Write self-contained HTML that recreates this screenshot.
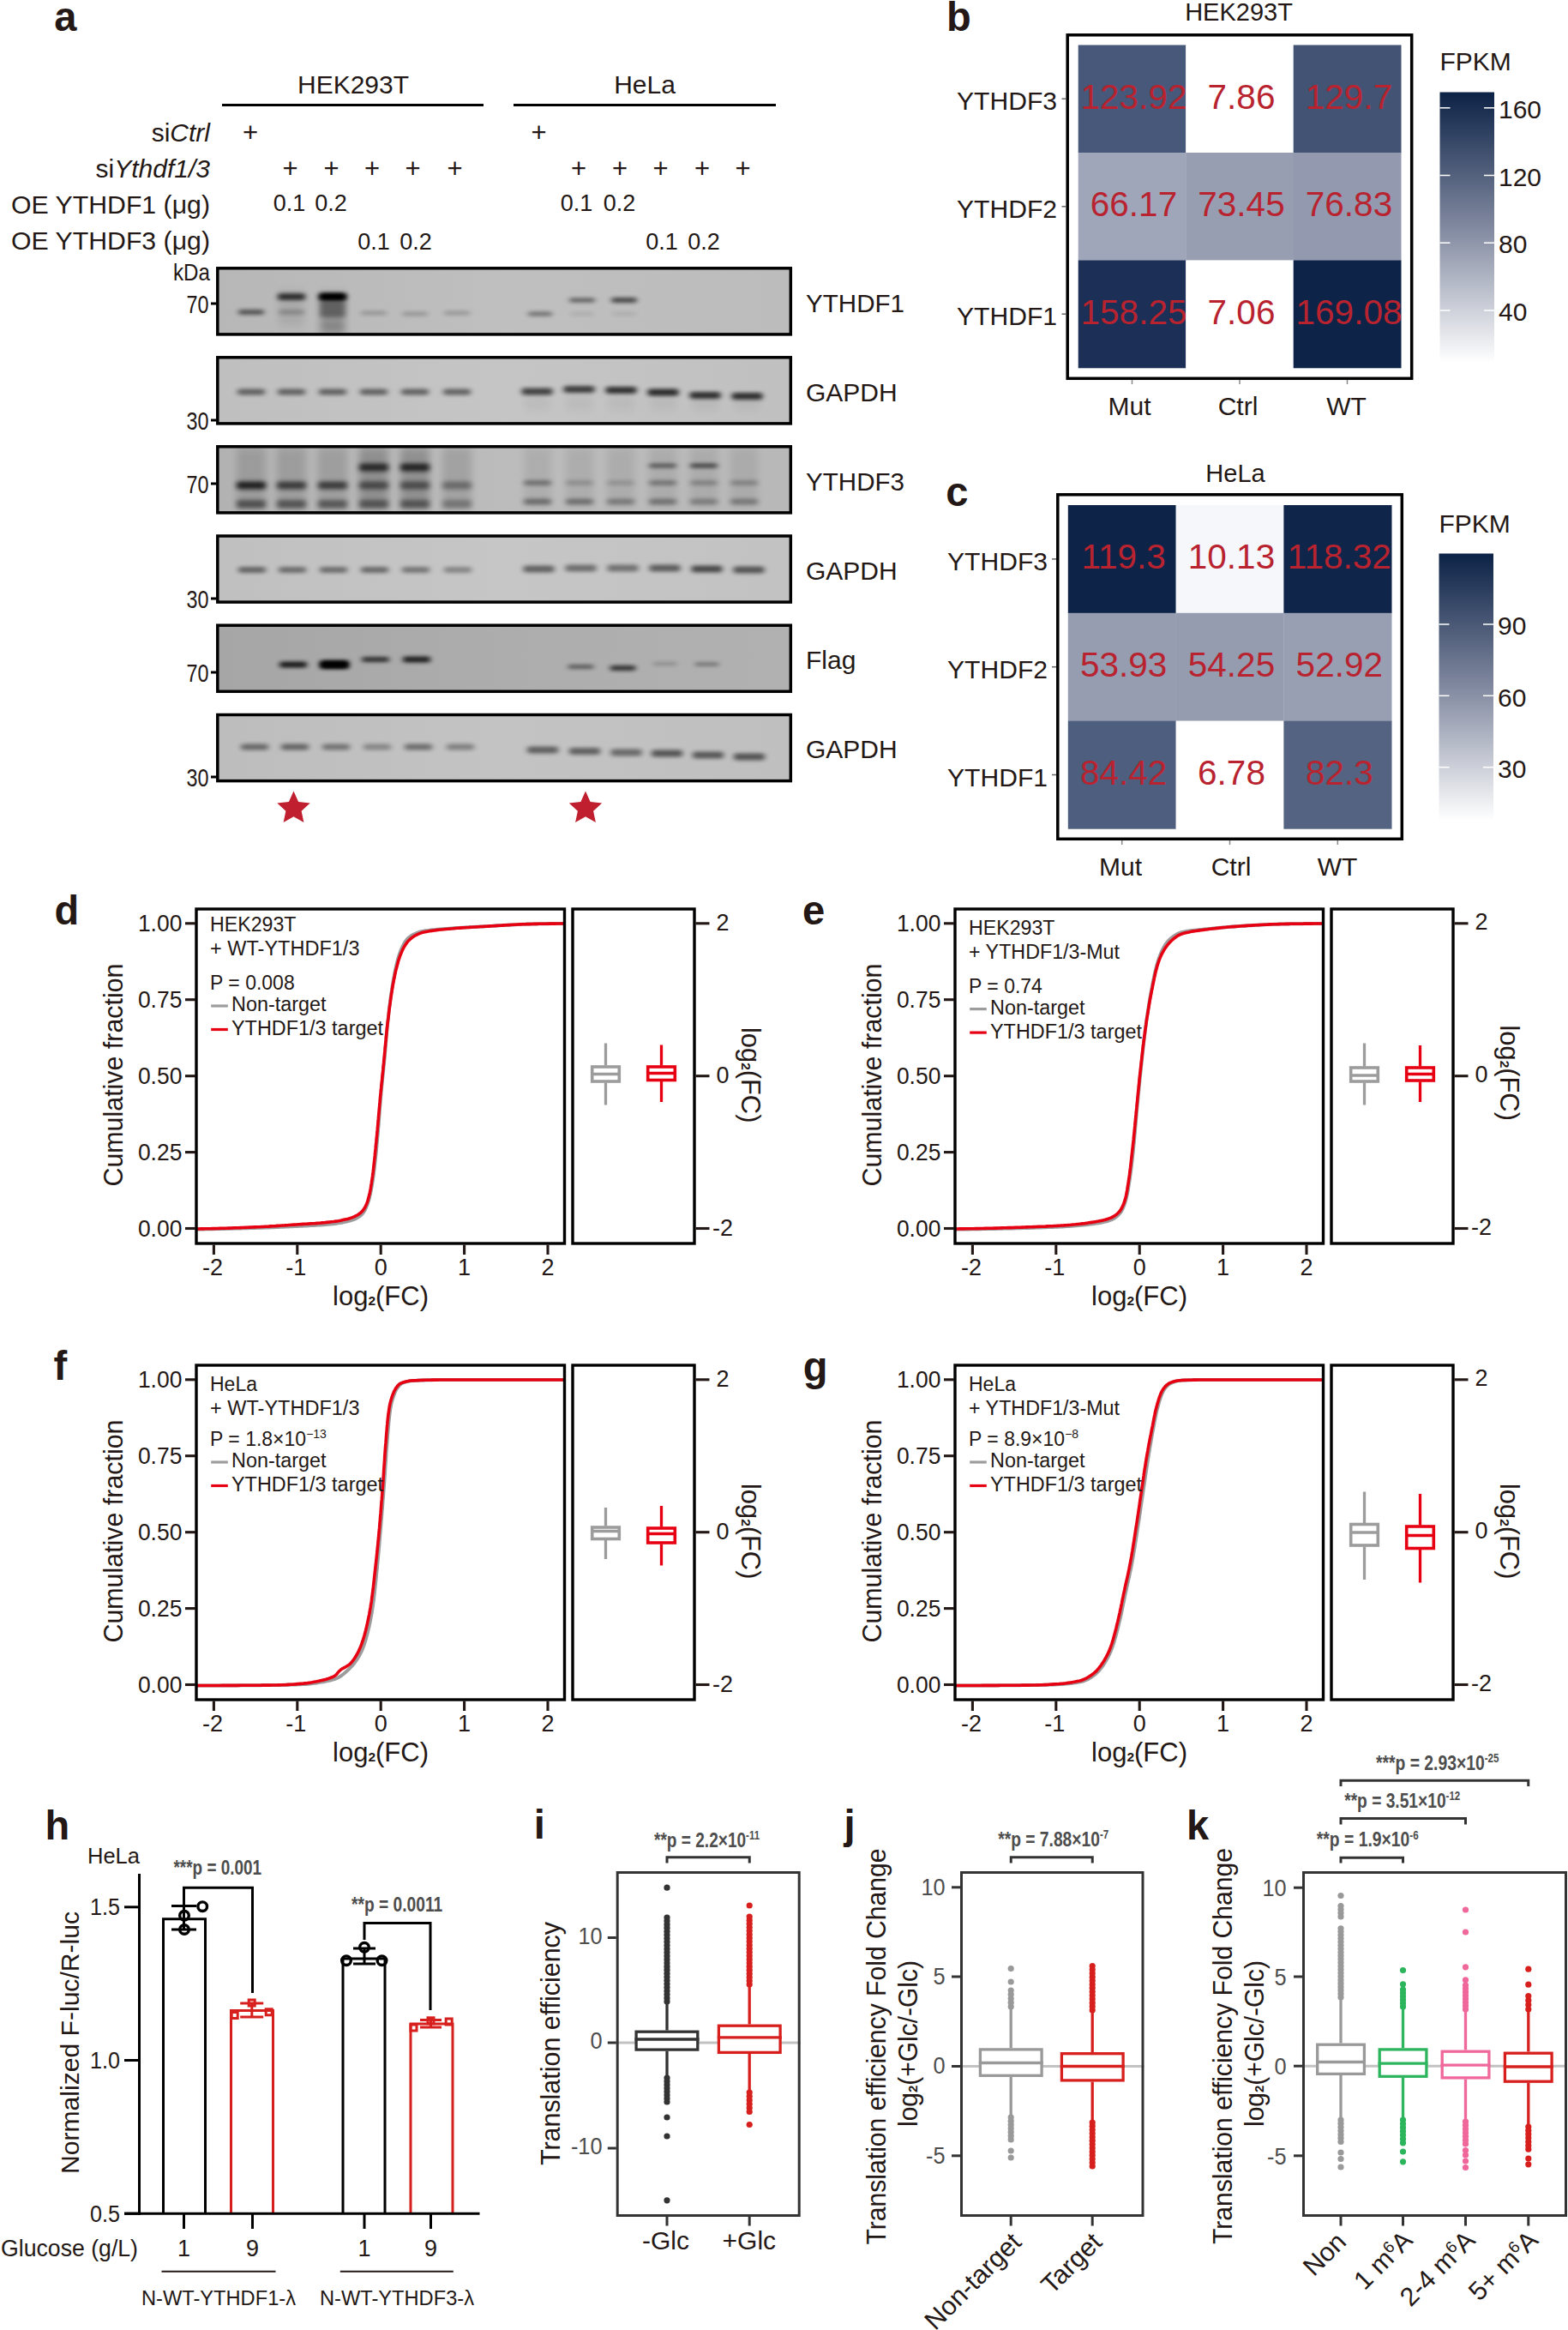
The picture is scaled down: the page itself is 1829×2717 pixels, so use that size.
<!DOCTYPE html>
<html lang="en"><head><meta charset="utf-8"><title>Figure</title>
<style>html,body{margin:0;padding:0;background:#fff}svg{display:block}text{font-family:"Liberation Sans", sans-serif}</style></head>
<body>
<svg width="1829" height="2717" viewBox="0 0 1829 2717" role="img" aria-label="Figure panels a to k">
<rect width="1829" height="2717" fill="#fff"/>
<g id="panel-a">
<text x="63.3" y="36.2" font-size="48" font-weight="bold" fill="#231815" textLength="26.2" lengthAdjust="spacingAndGlyphs">a</text>
<text x="412.0" y="109.0" font-size="30" text-anchor="middle" fill="#231815" textLength="130.0" lengthAdjust="spacingAndGlyphs">HEK293T</text>
<text x="752.0" y="109.0" font-size="30" text-anchor="middle" fill="#231815">HeLa</text>
<line x1="259.0" y1="122.5" x2="564.0" y2="122.5" stroke="#000" stroke-width="3" />
<line x1="599.0" y1="122.5" x2="905.0" y2="122.5" stroke="#000" stroke-width="3" />
<text x="245.0" y="165.0" font-size="30" text-anchor="end" fill="#231815">si<tspan font-style="italic">Ctrl</tspan></text>
<text x="245.0" y="207.0" font-size="30" text-anchor="end" fill="#231815">si<tspan font-style="italic">Ythdf1/3</tspan></text>
<text x="245.0" y="249.0" font-size="30" text-anchor="end" fill="#231815" textLength="232.0" lengthAdjust="spacingAndGlyphs">OE YTHDF1 (μg)</text>
<text x="245.0" y="291.0" font-size="30" text-anchor="end" fill="#231815" textLength="232.0" lengthAdjust="spacingAndGlyphs">OE YTHDF3 (μg)</text>
<text x="292.0" y="165.0" font-size="31" text-anchor="middle" fill="#231815">+</text>
<text x="338.5" y="207.0" font-size="31" text-anchor="middle" fill="#231815">+</text>
<text x="386.5" y="207.0" font-size="31" text-anchor="middle" fill="#231815">+</text>
<text x="434.0" y="207.0" font-size="31" text-anchor="middle" fill="#231815">+</text>
<text x="481.5" y="207.0" font-size="31" text-anchor="middle" fill="#231815">+</text>
<text x="530.5" y="207.0" font-size="31" text-anchor="middle" fill="#231815">+</text>
<text x="628.5" y="165.0" font-size="31" text-anchor="middle" fill="#231815">+</text>
<text x="675.0" y="207.0" font-size="31" text-anchor="middle" fill="#231815">+</text>
<text x="723.0" y="207.0" font-size="31" text-anchor="middle" fill="#231815">+</text>
<text x="770.5" y="207.0" font-size="31" text-anchor="middle" fill="#231815">+</text>
<text x="819.0" y="207.0" font-size="31" text-anchor="middle" fill="#231815">+</text>
<text x="866.5" y="207.0" font-size="31" text-anchor="middle" fill="#231815">+</text>
<text x="337.5" y="245.5" font-size="27" text-anchor="middle" fill="#231815">0.1</text>
<text x="386.0" y="245.5" font-size="27" text-anchor="middle" fill="#231815">0.2</text>
<text x="436.0" y="291.0" font-size="27" text-anchor="middle" fill="#231815">0.1</text>
<text x="485.0" y="291.0" font-size="27" text-anchor="middle" fill="#231815">0.2</text>
<text x="672.5" y="245.5" font-size="27" text-anchor="middle" fill="#231815">0.1</text>
<text x="722.5" y="245.5" font-size="27" text-anchor="middle" fill="#231815">0.2</text>
<text x="772.0" y="291.0" font-size="27" text-anchor="middle" fill="#231815">0.1</text>
<text x="821.0" y="291.0" font-size="27" text-anchor="middle" fill="#231815">0.2</text>
<text x="245.0" y="327.0" font-size="28" text-anchor="end" fill="#231815" textLength="43.0" lengthAdjust="spacingAndGlyphs">kDa</text>
<defs><filter id="b1" x="-30%" y="-200%" width="160%" height="500%"><feGaussianBlur stdDeviation="3 2.3"/></filter><filter id="b2" x="-30%" y="-200%" width="160%" height="500%"><feGaussianBlur stdDeviation="3.4 2.8"/></filter><filter id="b3" x="-30%" y="-100%" width="160%" height="300%"><feGaussianBlur stdDeviation="4 6"/></filter></defs>
<defs><linearGradient id="bg0" x1="0" y1="0" x2="1" y2="0"><stop offset="0" stop-color="#b7b7b7"/><stop offset="0.5" stop-color="#bfbfbf"/><stop offset="1" stop-color="#bcbcbc"/></linearGradient><linearGradient id="bg1" x1="0" y1="0" x2="1" y2="0"><stop offset="0" stop-color="#bfbfbf"/><stop offset="0.5" stop-color="#c5c5c5"/><stop offset="1" stop-color="#c0c0c0"/></linearGradient><linearGradient id="bg2" x1="0" y1="0" x2="1" y2="0"><stop offset="0" stop-color="#b2b2b2"/><stop offset="0.5" stop-color="#bcbcbc"/><stop offset="1" stop-color="#b8b8b8"/></linearGradient><linearGradient id="bg3" x1="0" y1="0" x2="1" y2="0"><stop offset="0" stop-color="#c0c0c0"/><stop offset="0.5" stop-color="#c6c6c6"/><stop offset="1" stop-color="#c2c2c2"/></linearGradient><linearGradient id="bg4" x1="0" y1="0" x2="1" y2="0"><stop offset="0" stop-color="#a6a6a6"/><stop offset="0.5" stop-color="#adadad"/><stop offset="1" stop-color="#b1b1b1"/></linearGradient><linearGradient id="bg5" x1="0" y1="0" x2="1" y2="0"><stop offset="0" stop-color="#bdbdbd"/><stop offset="0.5" stop-color="#c3c3c3"/><stop offset="1" stop-color="#bfbfbf"/></linearGradient></defs>
<clipPath id="cp0"><rect x="253.5" y="312.5" width="669" height="77.6"/></clipPath>
<rect x="253.8" y="312.8" width="668.5" height="77.1" fill="url(#bg0)" />
<g clip-path="url(#cp0)">
<rect x="278.0" y="361.0" width="30" height="6" rx="3.0" fill="#000" opacity="0.55" filter="url(#b1)"/>
<rect x="324.0" y="342.0" width="32" height="8" rx="3.0" fill="#000" opacity="0.72" filter="url(#b1)"/>
<rect x="325.0" y="361.0" width="30" height="6" rx="3.0" fill="#000" opacity="0.2" filter="url(#b1)"/>
<rect x="325.0" y="340.0" width="30" height="40" rx="3.0" fill="#000" opacity="0.08" filter="url(#b3)"/>
<rect x="372.0" y="341.5" width="32" height="9" rx="3.0" fill="#000" opacity="1.0" filter="url(#b1)"/>
<rect x="374.0" y="343.5" width="28" height="5" rx="2.5" fill="#000" opacity="0.8" filter="url(#b1)"/>
<rect x="373.0" y="350.0" width="30" height="20" rx="3.0" fill="#000" opacity="0.4" filter="url(#b2)"/>
<rect x="374.0" y="374.0" width="28" height="14" rx="3.0" fill="#000" opacity="0.22" filter="url(#b3)"/>
<rect x="373.0" y="342.0" width="30" height="46" rx="3.0" fill="#000" opacity="0.12" filter="url(#b3)"/>
<rect x="421.0" y="362.5" width="30" height="5" rx="2.5" fill="#000" opacity="0.2" filter="url(#b1)"/>
<rect x="469.0" y="363.5" width="30" height="5" rx="2.5" fill="#000" opacity="0.2" filter="url(#b1)"/>
<rect x="518.0" y="362.5" width="30" height="5" rx="2.5" fill="#000" opacity="0.2" filter="url(#b1)"/>
<rect x="616.0" y="363.5" width="28" height="5" rx="2.5" fill="#000" opacity="0.42" filter="url(#b1)"/>
<rect x="664.0" y="347.5" width="30" height="5" rx="2.5" fill="#000" opacity="0.5" filter="url(#b1)"/>
<rect x="665.0" y="363.5" width="28" height="5" rx="2.5" fill="#000" opacity="0.08" filter="url(#b1)"/>
<rect x="713.0" y="347.0" width="30" height="6" rx="3.0" fill="#000" opacity="0.62" filter="url(#b1)"/>
<rect x="714.0" y="363.5" width="28" height="5" rx="2.5" fill="#000" opacity="0.08" filter="url(#b1)"/>
</g>
<rect x="253.8" y="312.8" width="668.5" height="77.1" fill="none" stroke="#000" stroke-width="3.5" />
<text x="940.0" y="363.5" font-size="30" fill="#231815" textLength="115.0" lengthAdjust="spacingAndGlyphs">YTHDF1</text>
<text x="243.5" y="364.5" font-size="30" text-anchor="end" fill="#231815" textLength="26.0" lengthAdjust="spacingAndGlyphs">70</text>
<line x1="246.0" y1="354.0" x2="252.5" y2="354.0" stroke="#000" stroke-width="3" />
<clipPath id="cp1"><rect x="253.5" y="416.5" width="669" height="77.6"/></clipPath>
<rect x="253.8" y="416.8" width="668.5" height="77.1" fill="url(#bg1)" />
<g clip-path="url(#cp1)">
<rect x="277.0" y="453.5" width="32" height="7" rx="3.0" fill="#000" opacity="0.5" filter="url(#b1)"/>
<rect x="324.0" y="453.5" width="32" height="7" rx="3.0" fill="#000" opacity="0.5" filter="url(#b1)"/>
<rect x="372.0" y="453.5" width="32" height="7" rx="3.0" fill="#000" opacity="0.5" filter="url(#b1)"/>
<rect x="420.0" y="453.5" width="32" height="7" rx="3.0" fill="#000" opacity="0.5" filter="url(#b1)"/>
<rect x="468.0" y="453.5" width="32" height="7" rx="3.0" fill="#000" opacity="0.5" filter="url(#b1)"/>
<rect x="517.0" y="453.5" width="32" height="7" rx="3.0" fill="#000" opacity="0.5" filter="url(#b1)"/>
<rect x="608.5" y="452.5" width="36" height="8" rx="3.0" fill="#000" opacity="0.66" filter="url(#b1)"/>
<rect x="611.5" y="463.0" width="30" height="14" rx="3.0" fill="#000" opacity="0.05" filter="url(#b3)"/>
<rect x="657.5" y="450.0" width="36" height="8" rx="3.0" fill="#000" opacity="0.68" filter="url(#b1)"/>
<rect x="660.5" y="463.0" width="30" height="14" rx="3.0" fill="#000" opacity="0.05" filter="url(#b3)"/>
<rect x="706.5" y="451.0" width="36" height="8" rx="3.0" fill="#000" opacity="0.74" filter="url(#b1)"/>
<rect x="709.5" y="463.0" width="30" height="14" rx="3.0" fill="#000" opacity="0.05" filter="url(#b3)"/>
<rect x="755.5" y="453.5" width="36" height="8" rx="3.0" fill="#000" opacity="0.78" filter="url(#b1)"/>
<rect x="758.5" y="463.0" width="30" height="14" rx="3.0" fill="#000" opacity="0.05" filter="url(#b3)"/>
<rect x="804.5" y="457.0" width="36" height="8" rx="3.0" fill="#000" opacity="0.74" filter="url(#b1)"/>
<rect x="807.5" y="463.0" width="30" height="14" rx="3.0" fill="#000" opacity="0.05" filter="url(#b3)"/>
<rect x="853.5" y="458.0" width="36" height="8" rx="3.0" fill="#000" opacity="0.74" filter="url(#b1)"/>
<rect x="856.5" y="463.0" width="30" height="14" rx="3.0" fill="#000" opacity="0.05" filter="url(#b3)"/>
</g>
<rect x="253.8" y="416.8" width="668.5" height="77.1" fill="none" stroke="#000" stroke-width="3.5" />
<text x="940.0" y="467.5" font-size="30" fill="#231815">GAPDH</text>
<text x="243.5" y="500.5" font-size="30" text-anchor="end" fill="#231815" textLength="26.0" lengthAdjust="spacingAndGlyphs">30</text>
<line x1="246.0" y1="490.0" x2="252.5" y2="490.0" stroke="#000" stroke-width="3" />
<clipPath id="cp2"><rect x="253.5" y="520.5" width="669" height="77.6"/></clipPath>
<rect x="253.8" y="520.8" width="668.5" height="77.1" fill="url(#bg2)" />
<g clip-path="url(#cp2)">
<rect x="276.0" y="521.0" width="34" height="70" rx="3.0" fill="#000" opacity="0.13" filter="url(#b3)"/>
<rect x="276.0" y="561.5" width="34" height="9" rx="3.0" fill="#000" opacity="0.8" filter="url(#b2)"/>
<rect x="276.0" y="583.0" width="34" height="10" rx="3.0" fill="#000" opacity="0.5" filter="url(#b2)"/>
<rect x="323.0" y="521.0" width="34" height="70" rx="3.0" fill="#000" opacity="0.13" filter="url(#b3)"/>
<rect x="323.0" y="561.5" width="34" height="9" rx="3.0" fill="#000" opacity="0.62" filter="url(#b2)"/>
<rect x="323.0" y="583.0" width="34" height="10" rx="3.0" fill="#000" opacity="0.48" filter="url(#b2)"/>
<rect x="371.0" y="521.0" width="34" height="70" rx="3.0" fill="#000" opacity="0.13" filter="url(#b3)"/>
<rect x="371.0" y="561.5" width="34" height="9" rx="3.0" fill="#000" opacity="0.62" filter="url(#b2)"/>
<rect x="371.0" y="583.0" width="34" height="10" rx="3.0" fill="#000" opacity="0.46" filter="url(#b2)"/>
<rect x="419.0" y="521.0" width="34" height="70" rx="3.0" fill="#000" opacity="0.22" filter="url(#b3)"/>
<rect x="419.0" y="540.5" width="34" height="9" rx="3.0" fill="#000" opacity="0.72" filter="url(#b2)"/>
<rect x="419.0" y="561.5" width="34" height="9" rx="3.0" fill="#000" opacity="0.5" filter="url(#b2)"/>
<rect x="419.0" y="583.0" width="34" height="10" rx="3.0" fill="#000" opacity="0.46" filter="url(#b2)"/>
<rect x="467.0" y="521.0" width="34" height="70" rx="3.0" fill="#000" opacity="0.22" filter="url(#b3)"/>
<rect x="467.0" y="540.5" width="34" height="9" rx="3.0" fill="#000" opacity="0.76" filter="url(#b2)"/>
<rect x="467.0" y="561.5" width="34" height="9" rx="3.0" fill="#000" opacity="0.48" filter="url(#b2)"/>
<rect x="467.0" y="583.0" width="34" height="10" rx="3.0" fill="#000" opacity="0.46" filter="url(#b2)"/>
<rect x="516.0" y="521.0" width="34" height="70" rx="3.0" fill="#000" opacity="0.13" filter="url(#b3)"/>
<rect x="516.0" y="561.5" width="34" height="9" rx="3.0" fill="#000" opacity="0.34" filter="url(#b2)"/>
<rect x="516.0" y="583.0" width="34" height="10" rx="3.0" fill="#000" opacity="0.3" filter="url(#b2)"/>
<rect x="611.0" y="521.0" width="32" height="70" rx="3.0" fill="#000" opacity="0.07" filter="url(#b3)"/>
<rect x="611.0" y="560.0" width="32" height="6" rx="3.0" fill="#000" opacity="0.36" filter="url(#b1)"/>
<rect x="611.0" y="581.5" width="32" height="7" rx="3.0" fill="#000" opacity="0.38" filter="url(#b1)"/>
<rect x="660.0" y="521.0" width="32" height="70" rx="3.0" fill="#000" opacity="0.07" filter="url(#b3)"/>
<rect x="660.0" y="560.0" width="32" height="6" rx="3.0" fill="#000" opacity="0.18" filter="url(#b1)"/>
<rect x="660.0" y="581.5" width="32" height="7" rx="3.0" fill="#000" opacity="0.36" filter="url(#b1)"/>
<rect x="708.0" y="521.0" width="32" height="70" rx="3.0" fill="#000" opacity="0.07" filter="url(#b3)"/>
<rect x="708.0" y="560.0" width="32" height="6" rx="3.0" fill="#000" opacity="0.15" filter="url(#b1)"/>
<rect x="708.0" y="581.5" width="32" height="7" rx="3.0" fill="#000" opacity="0.3" filter="url(#b1)"/>
<rect x="757.0" y="521.0" width="32" height="70" rx="3.0" fill="#000" opacity="0.07" filter="url(#b3)"/>
<rect x="757.0" y="540.5" width="32" height="5" rx="2.5" fill="#000" opacity="0.5" filter="url(#b1)"/>
<rect x="757.0" y="560.0" width="32" height="6" rx="3.0" fill="#000" opacity="0.32" filter="url(#b1)"/>
<rect x="757.0" y="581.5" width="32" height="7" rx="3.0" fill="#000" opacity="0.34" filter="url(#b1)"/>
<rect x="805.0" y="521.0" width="32" height="70" rx="3.0" fill="#000" opacity="0.07" filter="url(#b3)"/>
<rect x="805.0" y="540.5" width="32" height="5" rx="2.5" fill="#000" opacity="0.62" filter="url(#b1)"/>
<rect x="805.0" y="560.0" width="32" height="6" rx="3.0" fill="#000" opacity="0.24" filter="url(#b1)"/>
<rect x="805.0" y="581.5" width="32" height="7" rx="3.0" fill="#000" opacity="0.28" filter="url(#b1)"/>
<rect x="852.0" y="521.0" width="32" height="70" rx="3.0" fill="#000" opacity="0.07" filter="url(#b3)"/>
<rect x="852.0" y="560.0" width="32" height="6" rx="3.0" fill="#000" opacity="0.24" filter="url(#b1)"/>
<rect x="852.0" y="581.5" width="32" height="7" rx="3.0" fill="#000" opacity="0.3" filter="url(#b1)"/>
</g>
<rect x="253.8" y="520.8" width="668.5" height="77.1" fill="none" stroke="#000" stroke-width="3.5" />
<text x="940.0" y="571.5" font-size="30" fill="#231815" textLength="115.0" lengthAdjust="spacingAndGlyphs">YTHDF3</text>
<text x="243.5" y="574.5" font-size="30" text-anchor="end" fill="#231815" textLength="26.0" lengthAdjust="spacingAndGlyphs">70</text>
<line x1="246.0" y1="564.0" x2="252.5" y2="564.0" stroke="#000" stroke-width="3" />
<clipPath id="cp3"><rect x="253.5" y="624.8" width="669" height="77.6"/></clipPath>
<rect x="253.8" y="625.0" width="668.5" height="77.1" fill="url(#bg3)" />
<g clip-path="url(#cp3)">
<rect x="278.0" y="661.0" width="32" height="7" rx="3.0" fill="#000" opacity="0.48" filter="url(#b1)"/>
<rect x="325.0" y="661.0" width="32" height="7" rx="3.0" fill="#000" opacity="0.44" filter="url(#b1)"/>
<rect x="373.0" y="661.0" width="32" height="7" rx="3.0" fill="#000" opacity="0.44" filter="url(#b1)"/>
<rect x="421.0" y="661.0" width="32" height="7" rx="3.0" fill="#000" opacity="0.46" filter="url(#b1)"/>
<rect x="469.0" y="661.0" width="32" height="7" rx="3.0" fill="#000" opacity="0.4" filter="url(#b1)"/>
<rect x="518.0" y="661.0" width="32" height="7" rx="3.0" fill="#000" opacity="0.32" filter="url(#b1)"/>
<rect x="610.5" y="659.5" width="36" height="8" rx="3.0" fill="#000" opacity="0.5" filter="url(#b1)"/>
<rect x="659.5" y="658.5" width="36" height="8" rx="3.0" fill="#000" opacity="0.44" filter="url(#b1)"/>
<rect x="708.5" y="658.5" width="36" height="8" rx="3.0" fill="#000" opacity="0.42" filter="url(#b1)"/>
<rect x="757.5" y="658.5" width="36" height="8" rx="3.0" fill="#000" opacity="0.52" filter="url(#b1)"/>
<rect x="806.5" y="659.5" width="36" height="8" rx="3.0" fill="#000" opacity="0.62" filter="url(#b1)"/>
<rect x="855.5" y="660.5" width="36" height="8" rx="3.0" fill="#000" opacity="0.56" filter="url(#b1)"/>
</g>
<rect x="253.8" y="625.0" width="668.5" height="77.1" fill="none" stroke="#000" stroke-width="3.5" />
<text x="940.0" y="675.8" font-size="30" fill="#231815">GAPDH</text>
<text x="243.5" y="708.5" font-size="30" text-anchor="end" fill="#231815" textLength="26.0" lengthAdjust="spacingAndGlyphs">30</text>
<line x1="246.0" y1="698.0" x2="252.5" y2="698.0" stroke="#000" stroke-width="3" />
<clipPath id="cp4"><rect x="253.5" y="729.0" width="669" height="77.6"/></clipPath>
<rect x="253.8" y="729.2" width="668.5" height="77.1" fill="url(#bg4)" />
<g clip-path="url(#cp4)">
<rect x="326.0" y="771.5" width="32" height="7" rx="3.0" fill="#000" opacity="0.85" filter="url(#b1)"/>
<rect x="373.0" y="770.0" width="34" height="10" rx="3.0" fill="#000" opacity="1.0" filter="url(#b1)"/>
<rect x="375.0" y="772.0" width="30" height="6" rx="3.0" fill="#000" opacity="0.9" filter="url(#b1)"/>
<rect x="422.0" y="766.0" width="32" height="6" rx="3.0" fill="#000" opacity="0.72" filter="url(#b1)"/>
<rect x="470.0" y="765.5" width="32" height="7" rx="3.0" fill="#000" opacity="0.82" filter="url(#b1)"/>
<rect x="662.5" y="775.0" width="30" height="5" rx="2.5" fill="#000" opacity="0.48" filter="url(#b1)"/>
<rect x="711.5" y="776.0" width="30" height="6" rx="3.0" fill="#000" opacity="0.72" filter="url(#b1)"/>
<rect x="761.5" y="772.0" width="28" height="4" rx="2.0" fill="#000" opacity="0.2" filter="url(#b1)"/>
<rect x="810.5" y="772.5" width="28" height="4" rx="2.0" fill="#000" opacity="0.38" filter="url(#b1)"/>
</g>
<rect x="253.8" y="729.2" width="668.5" height="77.1" fill="none" stroke="#000" stroke-width="3.5" />
<text x="940.0" y="780.0" font-size="30" fill="#231815">Flag</text>
<text x="243.5" y="794.5" font-size="30" text-anchor="end" fill="#231815" textLength="26.0" lengthAdjust="spacingAndGlyphs">70</text>
<line x1="246.0" y1="784.0" x2="252.5" y2="784.0" stroke="#000" stroke-width="3" />
<clipPath id="cp5"><rect x="253.5" y="833.3" width="669" height="77.6"/></clipPath>
<rect x="253.8" y="833.5" width="668.5" height="77.1" fill="url(#bg5)" />
<g clip-path="url(#cp5)">
<rect x="281.0" y="867.5" width="32" height="7" rx="3.0" fill="#000" opacity="0.46" filter="url(#b1)"/>
<rect x="328.0" y="867.5" width="32" height="7" rx="3.0" fill="#000" opacity="0.48" filter="url(#b1)"/>
<rect x="376.0" y="867.5" width="32" height="7" rx="3.0" fill="#000" opacity="0.4" filter="url(#b1)"/>
<rect x="424.0" y="867.5" width="32" height="7" rx="3.0" fill="#000" opacity="0.3" filter="url(#b1)"/>
<rect x="472.0" y="867.5" width="32" height="7" rx="3.0" fill="#000" opacity="0.44" filter="url(#b1)"/>
<rect x="521.0" y="867.5" width="32" height="7" rx="3.0" fill="#000" opacity="0.34" filter="url(#b1)"/>
<rect x="615.0" y="870.5" width="36" height="8" rx="3.0" fill="#000" opacity="0.5" filter="url(#b1)"/>
<rect x="664.0" y="872.0" width="36" height="8" rx="3.0" fill="#000" opacity="0.5" filter="url(#b1)"/>
<rect x="712.5" y="873.5" width="36" height="8" rx="3.0" fill="#000" opacity="0.46" filter="url(#b1)"/>
<rect x="760.0" y="874.5" width="36" height="8" rx="3.0" fill="#000" opacity="0.56" filter="url(#b1)"/>
<rect x="808.0" y="876.5" width="36" height="8" rx="3.0" fill="#000" opacity="0.54" filter="url(#b1)"/>
<rect x="856.0" y="878.5" width="36" height="8" rx="3.0" fill="#000" opacity="0.56" filter="url(#b1)"/>
</g>
<rect x="253.8" y="833.5" width="668.5" height="77.1" fill="none" stroke="#000" stroke-width="3.5" />
<text x="940.0" y="884.3" font-size="30" fill="#231815">GAPDH</text>
<text x="243.5" y="916.5" font-size="30" text-anchor="end" fill="#231815" textLength="26.0" lengthAdjust="spacingAndGlyphs">30</text>
<line x1="246.0" y1="906.0" x2="252.5" y2="906.0" stroke="#000" stroke-width="3" />
<polygon points="342.5,922.5 348.1,934.9 361.7,936.5 351.6,945.7 354.4,959.0 342.5,952.3 330.6,959.0 333.4,945.7 323.3,936.5 336.9,934.9" fill="#bf1f2e"/>
<polygon points="683.0,922.5 688.6,934.9 702.2,936.5 692.1,945.7 694.9,959.0 683.0,952.3 671.1,959.0 673.9,945.7 663.8,936.5 677.4,934.9" fill="#bf1f2e"/>
</g>
<g id="panel-b">
<text x="1104.0" y="35.6" font-size="48" font-weight="bold" fill="#231815" textLength="28.7" lengthAdjust="spacingAndGlyphs">b</text>
<text x="1445.0" y="24.0" font-size="29" text-anchor="middle" fill="#231815">HEK293T</text>
<rect x="1257.7" y="52.5" width="125.8" height="125.8" fill="#47587a" />
<rect x="1383.2" y="52.5" width="125.8" height="125.8" fill="#ffffff" />
<rect x="1508.7" y="52.5" width="125.8" height="125.8" fill="#425374" />
<rect x="1257.7" y="178.0" width="125.8" height="125.8" fill="#a0a6b9" />
<rect x="1383.2" y="178.0" width="125.8" height="125.8" fill="#989eb2" />
<rect x="1508.7" y="178.0" width="125.8" height="125.8" fill="#9399ae" />
<rect x="1257.7" y="303.5" width="125.8" height="125.8" fill="#1c3057" />
<rect x="1383.2" y="303.5" width="125.8" height="125.8" fill="#ffffff" />
<rect x="1508.7" y="303.5" width="125.8" height="125.8" fill="#0e2348" />
<rect x="1245.2" y="40.8" width="401.5" height="400.5" fill="none" stroke="#000" stroke-width="3.5" />
<text x="1322.5" y="126.8" font-size="40.5" text-anchor="middle" fill="#b8232f">123.92</text>
<text x="1448.0" y="126.8" font-size="40.5" text-anchor="middle" fill="#b8232f">7.86</text>
<text x="1573.5" y="126.8" font-size="40.5" text-anchor="middle" fill="#b8232f">129.7</text>
<text x="1233.0" y="128.2" font-size="30" text-anchor="end" fill="#231815" textLength="117.0" lengthAdjust="spacingAndGlyphs">YTHDF3</text>
<line x1="1238.5" y1="115.2" x2="1243.5" y2="115.2" stroke="#666" stroke-width="1.5" />
<text x="1322.5" y="252.2" font-size="40.5" text-anchor="middle" fill="#b8232f">66.17</text>
<text x="1448.0" y="252.2" font-size="40.5" text-anchor="middle" fill="#b8232f">73.45</text>
<text x="1573.5" y="252.2" font-size="40.5" text-anchor="middle" fill="#b8232f">76.83</text>
<text x="1233.0" y="253.8" font-size="30" text-anchor="end" fill="#231815" textLength="117.0" lengthAdjust="spacingAndGlyphs">YTHDF2</text>
<line x1="1238.5" y1="240.8" x2="1243.5" y2="240.8" stroke="#666" stroke-width="1.5" />
<text x="1322.5" y="377.8" font-size="40.5" text-anchor="middle" fill="#b8232f">158.25</text>
<text x="1448.0" y="377.8" font-size="40.5" text-anchor="middle" fill="#b8232f">7.06</text>
<text x="1573.5" y="377.8" font-size="40.5" text-anchor="middle" fill="#b8232f">169.08</text>
<text x="1233.0" y="379.2" font-size="30" text-anchor="end" fill="#231815" textLength="117.0" lengthAdjust="spacingAndGlyphs">YTHDF1</text>
<line x1="1238.5" y1="366.2" x2="1243.5" y2="366.2" stroke="#666" stroke-width="1.5" />
<text x="1317.5" y="483.5" font-size="30" text-anchor="middle" fill="#231815">Mut</text>
<line x1="1320.5" y1="443.0" x2="1320.5" y2="448.0" stroke="#888" stroke-width="1.5" />
<text x="1444.0" y="483.5" font-size="30" text-anchor="middle" fill="#231815">Ctrl</text>
<line x1="1446.0" y1="443.0" x2="1446.0" y2="448.0" stroke="#888" stroke-width="1.5" />
<text x="1570.5" y="483.5" font-size="30" text-anchor="middle" fill="#231815">WT</text>
<line x1="1571.5" y1="443.0" x2="1571.5" y2="448.0" stroke="#888" stroke-width="1.5" />
<text x="1679.5" y="82.0" font-size="30" fill="#231815">FPKM</text>
<defs><linearGradient id="gradb" x1="0" y1="0" x2="0" y2="1"><stop offset="0" stop-color="#0c2246"/><stop offset="0.5" stop-color="#8189a0"/><stop offset="1" stop-color="#ffffff"/></linearGradient></defs>
<rect x="1679.5" y="107.5" width="63.5" height="315.5" fill="url(#gradb)" />
<line x1="1679.5" y1="125.8" x2="1691.5" y2="125.8" stroke="#fff" stroke-width="1.5" />
<line x1="1731.0" y1="125.8" x2="1743.0" y2="125.8" stroke="#fff" stroke-width="1.5" />
<text x="1748.0" y="137.9" font-size="30" fill="#231815">160</text>
<line x1="1679.5" y1="204.5" x2="1691.5" y2="204.5" stroke="#fff" stroke-width="1.5" />
<line x1="1731.0" y1="204.5" x2="1743.0" y2="204.5" stroke="#fff" stroke-width="1.5" />
<text x="1748.0" y="216.7" font-size="30" fill="#231815">120</text>
<line x1="1679.5" y1="283.2" x2="1691.5" y2="283.2" stroke="#fff" stroke-width="1.5" />
<line x1="1731.0" y1="283.2" x2="1743.0" y2="283.2" stroke="#fff" stroke-width="1.5" />
<text x="1748.0" y="295.4" font-size="30" fill="#231815">80</text>
<line x1="1679.5" y1="362.0" x2="1691.5" y2="362.0" stroke="#fff" stroke-width="1.5" />
<line x1="1731.0" y1="362.0" x2="1743.0" y2="362.0" stroke="#fff" stroke-width="1.5" />
<text x="1748.0" y="374.2" font-size="30" fill="#231815">40</text>
</g>
<g id="panel-c">
<text x="1103.3" y="590.0" font-size="48" font-weight="bold" fill="#231815" textLength="26.2" lengthAdjust="spacingAndGlyphs">c</text>
<text x="1441.0" y="562.0" font-size="29" text-anchor="middle" fill="#231815">HeLa</text>
<rect x="1245.8" y="589.0" width="126.1" height="126.1" fill="#0e2348" />
<rect x="1371.6" y="589.0" width="126.1" height="126.1" fill="#f5f7fa" />
<rect x="1497.4" y="589.0" width="126.1" height="126.1" fill="#10254a" />
<rect x="1245.8" y="714.8" width="126.1" height="126.1" fill="#969db1" />
<rect x="1371.6" y="714.8" width="126.1" height="126.1" fill="#959cb0" />
<rect x="1497.4" y="714.8" width="126.1" height="126.1" fill="#989fb3" />
<rect x="1245.8" y="840.6" width="126.1" height="126.1" fill="#4e5e7e" />
<rect x="1371.6" y="840.6" width="126.1" height="126.1" fill="#ffffff" />
<rect x="1497.4" y="840.6" width="126.1" height="126.1" fill="#536381" />
<rect x="1233.8" y="576.8" width="401.5" height="401.5" fill="none" stroke="#000" stroke-width="3.5" />
<text x="1310.7" y="663.4" font-size="40.5" text-anchor="middle" fill="#b8232f">119.3</text>
<text x="1436.5" y="663.4" font-size="40.5" text-anchor="middle" fill="#b8232f">10.13</text>
<text x="1562.3" y="663.4" font-size="40.5" text-anchor="middle" fill="#b8232f">118.32</text>
<text x="1222.0" y="664.9" font-size="30" text-anchor="end" fill="#231815" textLength="117.0" lengthAdjust="spacingAndGlyphs">YTHDF3</text>
<line x1="1227.0" y1="651.9" x2="1232.0" y2="651.9" stroke="#666" stroke-width="1.5" />
<text x="1310.7" y="789.2" font-size="40.5" text-anchor="middle" fill="#b8232f">53.93</text>
<text x="1436.5" y="789.2" font-size="40.5" text-anchor="middle" fill="#b8232f">54.25</text>
<text x="1562.3" y="789.2" font-size="40.5" text-anchor="middle" fill="#b8232f">52.92</text>
<text x="1222.0" y="790.7" font-size="30" text-anchor="end" fill="#231815" textLength="117.0" lengthAdjust="spacingAndGlyphs">YTHDF2</text>
<line x1="1227.0" y1="777.7" x2="1232.0" y2="777.7" stroke="#666" stroke-width="1.5" />
<text x="1310.7" y="915.0" font-size="40.5" text-anchor="middle" fill="#b8232f">84.42</text>
<text x="1436.5" y="915.0" font-size="40.5" text-anchor="middle" fill="#b8232f">6.78</text>
<text x="1562.3" y="915.0" font-size="40.5" text-anchor="middle" fill="#b8232f">82.3</text>
<text x="1222.0" y="916.5" font-size="30" text-anchor="end" fill="#231815" textLength="117.0" lengthAdjust="spacingAndGlyphs">YTHDF1</text>
<line x1="1227.0" y1="903.5" x2="1232.0" y2="903.5" stroke="#666" stroke-width="1.5" />
<text x="1307.0" y="1021.0" font-size="30" text-anchor="middle" fill="#231815">Mut</text>
<line x1="1308.7" y1="980.0" x2="1308.7" y2="985.0" stroke="#888" stroke-width="1.5" />
<text x="1436.0" y="1021.0" font-size="30" text-anchor="middle" fill="#231815">Ctrl</text>
<line x1="1434.5" y1="980.0" x2="1434.5" y2="985.0" stroke="#888" stroke-width="1.5" />
<text x="1560.0" y="1021.0" font-size="30" text-anchor="middle" fill="#231815">WT</text>
<line x1="1560.3" y1="980.0" x2="1560.3" y2="985.0" stroke="#888" stroke-width="1.5" />
<text x="1678.5" y="621.0" font-size="30" fill="#231815">FPKM</text>
<defs><linearGradient id="gradc" x1="0" y1="0" x2="0" y2="1"><stop offset="0" stop-color="#0c2246"/><stop offset="0.5" stop-color="#8189a0"/><stop offset="1" stop-color="#ffffff"/></linearGradient></defs>
<rect x="1678.5" y="645.5" width="63.5" height="311.5" fill="url(#gradc)" />
<line x1="1678.5" y1="728.0" x2="1690.5" y2="728.0" stroke="#fff" stroke-width="1.5" />
<line x1="1730.0" y1="728.0" x2="1742.0" y2="728.0" stroke="#fff" stroke-width="1.5" />
<text x="1747.0" y="740.2" font-size="30" fill="#231815">90</text>
<line x1="1678.5" y1="811.3" x2="1690.5" y2="811.3" stroke="#fff" stroke-width="1.5" />
<line x1="1730.0" y1="811.3" x2="1742.0" y2="811.3" stroke="#fff" stroke-width="1.5" />
<text x="1747.0" y="823.5" font-size="30" fill="#231815">60</text>
<line x1="1678.5" y1="894.7" x2="1690.5" y2="894.7" stroke="#fff" stroke-width="1.5" />
<line x1="1730.0" y1="894.7" x2="1742.0" y2="894.7" stroke="#fff" stroke-width="1.5" />
<text x="1747.0" y="906.9" font-size="30" fill="#231815">30</text>
</g>
<g id="panel-d">
<text x="63.5" y="1078.0" font-size="48" font-weight="bold" fill="#231815" textLength="28.7" lengthAdjust="spacingAndGlyphs">d</text>
<clipPath id="ccd"><rect x="229" y="1060" width="429.5" height="390"/></clipPath>
<g clip-path="url(#ccd)">
<path d="M229.0,1433.5 L231.7,1433.5 L234.5,1433.4 L237.2,1433.4 L240.0,1433.3 L242.7,1433.3 L245.4,1433.2 L248.2,1433.2 L250.9,1433.1 L253.6,1433.1 L256.4,1433.0 L259.1,1433.0 L261.9,1432.9 L264.6,1432.8 L267.3,1432.8 L270.1,1432.7 L272.8,1432.6 L275.5,1432.5 L278.3,1432.5 L281.0,1432.4 L283.7,1432.3 L286.5,1432.2 L289.2,1432.2 L292.0,1432.1 L294.7,1432.0 L297.4,1431.9 L300.2,1431.8 L302.9,1431.8 L305.6,1431.7 L308.4,1431.6 L311.1,1431.5 L313.8,1431.4 L316.6,1431.3 L319.3,1431.2 L322.1,1431.0 L324.8,1430.9 L327.5,1430.8 L330.3,1430.7 L333.0,1430.6 L335.7,1430.4 L338.5,1430.3 L341.2,1430.2 L343.9,1430.1 L346.7,1429.9 L349.4,1429.8 L352.1,1429.7 L354.9,1429.5 L357.6,1429.4 L360.4,1429.2 L363.1,1429.1 L365.8,1428.9 L368.6,1428.8 L371.3,1428.6 L374.0,1428.4 L376.8,1428.2 L379.5,1428.0 L382.2,1427.8 L384.9,1427.5 L387.7,1427.2 L390.4,1426.9 L393.2,1426.5 L395.9,1426.1 L398.7,1425.7 L401.4,1425.1 L404.1,1424.6 L406.7,1423.9 L409.2,1423.2 L411.8,1422.4 L414.4,1421.3 L416.9,1419.9 L419.3,1418.3 L421.5,1416.6 L423.2,1414.8 L424.7,1412.7 L426.0,1410.4 L427.2,1407.8 L428.3,1405.1 L429.2,1402.4 L430.1,1399.8 L430.8,1397.2 L431.4,1394.6 L432.0,1391.9 L432.6,1389.2 L433.1,1386.5 L433.6,1383.8 L434.1,1381.1 L434.5,1378.4 L434.9,1375.6 L435.3,1372.9 L435.7,1370.2 L436.0,1367.5 L436.4,1364.8 L436.7,1362.1 L437.0,1359.4 L437.3,1356.7 L437.6,1353.9 L437.9,1351.2 L438.2,1348.5 L438.5,1345.7 L438.8,1343.0 L439.0,1340.3 L439.3,1337.6 L439.5,1334.8 L439.8,1332.1 L440.1,1329.4 L440.3,1326.7 L440.6,1323.9 L440.8,1321.2 L441.0,1318.5 L441.2,1315.7 L441.5,1313.0 L441.7,1310.3 L441.9,1307.6 L442.1,1304.8 L442.3,1302.1 L442.5,1299.4 L442.7,1296.6 L442.9,1293.9 L443.1,1291.2 L443.4,1288.4 L443.6,1285.7 L443.8,1283.0 L444.0,1280.3 L444.3,1277.5 L444.5,1274.8 L444.8,1272.1 L445.0,1269.4 L445.3,1266.6 L445.6,1263.9 L445.9,1261.2 L446.1,1258.5 L446.4,1255.7 L446.7,1253.0 L447.0,1250.3 L447.3,1247.6 L447.5,1244.8 L447.8,1242.1 L448.1,1239.4 L448.3,1236.7 L448.6,1233.9 L448.8,1231.2 L449.0,1228.5 L449.3,1225.8 L449.5,1223.0 L449.7,1220.3 L450.0,1217.6 L450.2,1214.8 L450.4,1212.1 L450.6,1209.4 L450.9,1206.7 L451.1,1203.9 L451.4,1201.2 L451.6,1198.5 L451.9,1195.7 L452.2,1193.0 L452.5,1190.3 L452.8,1187.6 L453.1,1184.9 L453.4,1182.1 L453.7,1179.4 L454.0,1176.7 L454.3,1174.0 L454.7,1171.3 L455.0,1168.5 L455.4,1165.8 L455.7,1163.1 L456.1,1160.4 L456.5,1157.7 L456.9,1155.0 L457.3,1152.3 L457.7,1149.6 L458.2,1146.9 L458.6,1144.2 L459.1,1141.5 L459.6,1138.8 L460.1,1136.0 L460.6,1133.3 L461.2,1130.6 L461.8,1127.9 L462.4,1125.2 L463.0,1122.6 L463.7,1119.9 L464.5,1117.3 L465.3,1114.7 L466.1,1112.2 L467.0,1109.6 L468.1,1106.9 L469.3,1104.2 L470.6,1101.6 L471.9,1099.2 L473.5,1096.9 L475.1,1094.9 L476.8,1093.3 L478.9,1091.8 L481.2,1090.3 L483.8,1089.0 L486.5,1087.8 L489.2,1086.8 L491.8,1086.1 L494.4,1085.6 L497.1,1085.2 L499.8,1084.9 L502.5,1084.5 L505.2,1084.2 L508.0,1084.0 L510.7,1083.7 L513.5,1083.5 L516.3,1083.3 L519.0,1083.1 L521.8,1082.9 L524.5,1082.7 L527.2,1082.5 L529.9,1082.3 L532.7,1082.1 L535.4,1081.9 L538.1,1081.7 L540.9,1081.6 L543.6,1081.4 L546.3,1081.3 L549.1,1081.1 L551.8,1081.0 L554.5,1080.8 L557.3,1080.7 L560.0,1080.5 L562.7,1080.4 L565.5,1080.2 L568.2,1080.1 L571.0,1079.9 L573.7,1079.8 L576.4,1079.6 L579.2,1079.5 L581.9,1079.3 L584.6,1079.1 L587.4,1079.0 L590.1,1078.8 L592.8,1078.7 L595.6,1078.5 L598.3,1078.4 L601.0,1078.2 L603.8,1078.1 L606.5,1077.9 L609.2,1077.8 L612.0,1077.7 L614.7,1077.6 L617.4,1077.6 L620.2,1077.5 L622.9,1077.4 L625.6,1077.4 L628.4,1077.3 L631.1,1077.3 L633.9,1077.2 L636.6,1077.2 L639.3,1077.2 L642.1,1077.1 L644.8,1077.1 L647.5,1077.1 L650.3,1077.0 L653.0,1077.0 L655.8,1077.0 L658.5,1077.0" fill="none" stroke="#9c9c9c" stroke-width="4" stroke-linejoin="round"/>
<path d="M229.0,1433.0 L231.7,1433.0 L234.4,1432.9 L237.2,1432.9 L239.9,1432.8 L242.6,1432.8 L245.3,1432.7 L248.0,1432.6 L250.7,1432.6 L253.5,1432.5 L256.2,1432.4 L258.9,1432.3 L261.6,1432.2 L264.3,1432.2 L267.0,1432.1 L269.8,1432.0 L272.5,1431.9 L275.2,1431.8 L277.9,1431.7 L280.6,1431.6 L283.3,1431.5 L286.1,1431.4 L288.8,1431.3 L291.5,1431.1 L294.2,1431.0 L296.9,1430.9 L299.6,1430.8 L302.3,1430.7 L305.1,1430.5 L307.8,1430.4 L310.5,1430.2 L313.2,1430.1 L315.9,1429.9 L318.6,1429.7 L321.3,1429.6 L324.0,1429.4 L326.8,1429.2 L329.5,1429.0 L332.2,1428.9 L334.9,1428.7 L337.6,1428.5 L340.3,1428.3 L343.0,1428.1 L345.7,1428.0 L348.5,1427.8 L351.2,1427.6 L353.9,1427.4 L356.6,1427.3 L359.3,1427.1 L362.0,1426.9 L364.8,1426.7 L367.5,1426.6 L370.2,1426.4 L372.9,1426.2 L375.6,1425.9 L378.3,1425.7 L381.0,1425.4 L383.7,1425.1 L386.4,1424.8 L389.1,1424.5 L391.8,1424.1 L394.6,1423.7 L397.3,1423.2 L400.0,1422.6 L402.6,1422.0 L405.3,1421.4 L407.8,1420.7 L410.3,1419.9 L412.9,1418.9 L415.4,1417.7 L417.9,1416.2 L420.2,1414.6 L422.1,1412.9 L423.7,1411.0 L425.2,1408.8 L426.5,1406.3 L427.7,1403.7 L428.7,1401.1 L429.4,1398.5 L430.1,1395.9 L430.8,1393.3 L431.4,1390.7 L431.9,1388.0 L432.4,1385.3 L432.8,1382.6 L433.3,1379.8 L433.7,1377.1 L434.1,1374.5 L434.5,1371.8 L434.8,1369.1 L435.2,1366.4 L435.5,1363.7 L435.8,1361.0 L436.1,1358.3 L436.4,1355.6 L436.7,1352.9 L437.0,1350.2 L437.3,1347.5 L437.5,1344.8 L437.8,1342.1 L438.1,1339.4 L438.3,1336.6 L438.6,1333.9 L438.9,1331.2 L439.1,1328.5 L439.4,1325.8 L439.7,1323.1 L439.9,1320.4 L440.2,1317.7 L440.4,1315.0 L440.7,1312.3 L440.9,1309.6 L441.1,1306.9 L441.4,1304.2 L441.6,1301.5 L441.9,1298.8 L442.1,1296.1 L442.3,1293.3 L442.6,1290.6 L442.8,1287.9 L443.1,1285.2 L443.3,1282.5 L443.5,1279.8 L443.8,1277.1 L444.1,1274.4 L444.3,1271.7 L444.6,1269.0 L444.8,1266.3 L445.1,1263.6 L445.4,1260.9 L445.7,1258.2 L445.9,1255.5 L446.2,1252.8 L446.5,1250.1 L446.8,1247.4 L447.0,1244.7 L447.3,1241.9 L447.6,1239.2 L447.8,1236.5 L448.1,1233.8 L448.4,1231.1 L448.6,1228.4 L448.9,1225.7 L449.1,1223.0 L449.4,1220.3 L449.6,1217.6 L449.9,1214.9 L450.2,1212.2 L450.4,1209.5 L450.7,1206.8 L451.0,1204.1 L451.2,1201.4 L451.5,1198.7 L451.8,1196.0 L452.1,1193.3 L452.4,1190.6 L452.8,1187.9 L453.1,1185.2 L453.4,1182.5 L453.7,1179.8 L454.1,1177.1 L454.4,1174.4 L454.8,1171.7 L455.2,1169.0 L455.5,1166.3 L455.9,1163.6 L456.3,1160.9 L456.7,1158.2 L457.2,1155.5 L457.6,1152.8 L458.1,1150.2 L458.5,1147.5 L459.0,1144.8 L459.5,1142.2 L460.1,1139.5 L460.6,1136.8 L461.2,1134.1 L461.8,1131.4 L462.5,1128.8 L463.2,1126.1 L463.9,1123.5 L464.6,1120.8 L465.4,1118.3 L466.3,1115.7 L467.2,1113.2 L468.2,1110.8 L469.3,1108.2 L470.6,1105.7 L472.0,1103.2 L473.5,1100.8 L475.1,1098.7 L476.8,1096.7 L478.6,1095.0 L480.7,1093.3 L483.0,1091.8 L485.5,1090.3 L488.0,1089.1 L490.6,1088.1 L493.1,1087.3 L495.7,1086.8 L498.3,1086.2 L501.0,1085.8 L503.7,1085.4 L506.4,1085.0 L509.1,1084.6 L511.9,1084.3 L514.6,1084.0 L517.4,1083.8 L520.1,1083.5 L522.8,1083.2 L525.5,1083.0 L528.2,1082.8 L530.9,1082.5 L533.6,1082.3 L536.3,1082.1 L539.0,1081.9 L541.7,1081.7 L544.5,1081.5 L547.2,1081.4 L549.9,1081.2 L552.6,1081.0 L555.3,1080.9 L558.0,1080.7 L560.7,1080.5 L563.5,1080.4 L566.2,1080.2 L568.9,1080.1 L571.6,1079.9 L574.3,1079.7 L577.0,1079.6 L579.7,1079.4 L582.4,1079.2 L585.2,1079.1 L587.9,1078.9 L590.6,1078.8 L593.3,1078.6 L596.0,1078.5 L598.7,1078.3 L601.4,1078.2 L604.2,1078.0 L606.9,1077.9 L609.6,1077.8 L612.3,1077.7 L615.0,1077.6 L617.7,1077.6 L620.5,1077.5 L623.2,1077.4 L625.9,1077.4 L628.6,1077.3 L631.3,1077.3 L634.0,1077.2 L636.8,1077.2 L639.5,1077.1 L642.2,1077.1 L644.9,1077.1 L647.6,1077.1 L650.3,1077.0 L653.1,1077.0 L655.8,1077.0 L658.5,1077.0" fill="none" stroke="#e60012" stroke-width="3.6" stroke-linejoin="round"/>
</g>
<rect x="229.0" y="1060.0" width="429.5" height="390.0" fill="none" stroke="#000" stroke-width="3.4" />
<rect x="668.0" y="1060.0" width="142.0" height="390.0" fill="none" stroke="#000" stroke-width="3.4" />
<line x1="216.0" y1="1076.8" x2="228.0" y2="1076.8" stroke="#231815" stroke-width="3.1" />
<text x="212.4" y="1086.0" font-size="27.5" text-anchor="end" fill="#231815" textLength="51.5" lengthAdjust="spacingAndGlyphs">1.00</text>
<line x1="216.0" y1="1165.7" x2="228.0" y2="1165.7" stroke="#231815" stroke-width="3.1" />
<text x="212.4" y="1175.0" font-size="27.5" text-anchor="end" fill="#231815" textLength="51.5" lengthAdjust="spacingAndGlyphs">0.75</text>
<line x1="216.0" y1="1254.7" x2="228.0" y2="1254.7" stroke="#231815" stroke-width="3.1" />
<text x="212.4" y="1264.0" font-size="27.5" text-anchor="end" fill="#231815" textLength="51.5" lengthAdjust="spacingAndGlyphs">0.50</text>
<line x1="216.0" y1="1343.6" x2="228.0" y2="1343.6" stroke="#231815" stroke-width="3.1" />
<text x="212.4" y="1352.9" font-size="27.5" text-anchor="end" fill="#231815" textLength="51.5" lengthAdjust="spacingAndGlyphs">0.25</text>
<line x1="216.0" y1="1432.5" x2="228.0" y2="1432.5" stroke="#231815" stroke-width="3.1" />
<text x="212.4" y="1441.8" font-size="27.5" text-anchor="end" fill="#231815" textLength="51.5" lengthAdjust="spacingAndGlyphs">0.00</text>
<text x="143.2" y="1253.5" font-size="31" text-anchor="middle" fill="#231815" transform="rotate(-90 143.2 1253.5)" textLength="260.0" lengthAdjust="spacingAndGlyphs">Cumulative fraction</text>
<line x1="249.4" y1="1451.5" x2="249.4" y2="1463.0" stroke="#231815" stroke-width="3.1" />
<text x="247.9" y="1487.0" font-size="27" text-anchor="middle" fill="#231815">-2</text>
<line x1="346.8" y1="1451.5" x2="346.8" y2="1463.0" stroke="#231815" stroke-width="3.1" />
<text x="345.3" y="1487.0" font-size="27" text-anchor="middle" fill="#231815">-1</text>
<line x1="444.2" y1="1451.5" x2="444.2" y2="1463.0" stroke="#231815" stroke-width="3.1" />
<text x="444.2" y="1487.0" font-size="27" text-anchor="middle" fill="#231815">0</text>
<line x1="541.6" y1="1451.5" x2="541.6" y2="1463.0" stroke="#231815" stroke-width="3.1" />
<text x="541.6" y="1487.0" font-size="27" text-anchor="middle" fill="#231815">1</text>
<line x1="639.0" y1="1451.5" x2="639.0" y2="1463.0" stroke="#231815" stroke-width="3.1" />
<text x="639.0" y="1487.0" font-size="27" text-anchor="middle" fill="#231815">2</text>
<text x="444.0" y="1522.0" font-size="31" text-anchor="middle" fill="#231815" textLength="112.0" lengthAdjust="spacingAndGlyphs">log<tspan font-size="15.5" font-weight="bold">2</tspan>(FC)</text>
<line x1="811.5" y1="1076.8" x2="827.5" y2="1076.8" stroke="#231815" stroke-width="3.1" />
<text x="835.5" y="1085.3" font-size="27" fill="#231815">2</text>
<line x1="811.5" y1="1254.7" x2="827.5" y2="1254.7" stroke="#231815" stroke-width="3.1" />
<text x="835.5" y="1263.2" font-size="27" fill="#231815">0</text>
<line x1="811.5" y1="1432.5" x2="827.5" y2="1432.5" stroke="#231815" stroke-width="3.1" />
<text x="831.0" y="1441.1" font-size="27" fill="#231815">-2</text>
<text x="865.4" y="1253.7" font-size="31" text-anchor="middle" fill="#231815" transform="rotate(90 865.4 1253.7)" textLength="111.5" lengthAdjust="spacingAndGlyphs">log<tspan font-size="15.5" font-weight="bold">2</tspan>(FC)</text>
<text x="245.0" y="1085.5" font-size="23" fill="#231815" textLength="100.5" lengthAdjust="spacingAndGlyphs">HEK293T</text>
<text x="245.0" y="1113.6" font-size="23" fill="#231815" textLength="174.5" lengthAdjust="spacingAndGlyphs">+ WT-YTHDF1/3</text>
<text x="245.0" y="1154.2" font-size="23" fill="#231815">P = 0.008</text>
<line x1="246.2" y1="1173.0" x2="265.8" y2="1173.0" stroke="#9c9c9c" stroke-width="3.2" />
<text x="270.0" y="1178.9" font-size="23.5" fill="#231815" textLength="110.5" lengthAdjust="spacingAndGlyphs">Non-target</text>
<line x1="246.2" y1="1200.5" x2="265.8" y2="1200.5" stroke="#e60012" stroke-width="3.2" />
<text x="270.0" y="1207.0" font-size="23.5" fill="#231815" textLength="177.0" lengthAdjust="spacingAndGlyphs">YTHDF1/3 target</text>
<line x1="706.5" y1="1216.5" x2="706.5" y2="1242.5" stroke="#9c9c9c" stroke-width="3.3" />
<line x1="706.5" y1="1262.5" x2="706.5" y2="1288.5" stroke="#9c9c9c" stroke-width="3.3" />
<rect x="690.7" y="1244.0" width="31.6" height="17.0" fill="#fff" stroke="#9c9c9c" stroke-width="3.6" />
<line x1="689.0" y1="1252.5" x2="724.0" y2="1252.5" stroke="#9c9c9c" stroke-width="3.4" />
<line x1="771.5" y1="1218.5" x2="771.5" y2="1242.5" stroke="#e60012" stroke-width="3.3" />
<line x1="771.5" y1="1261.0" x2="771.5" y2="1285.0" stroke="#e60012" stroke-width="3.3" />
<rect x="755.7" y="1244.0" width="31.6" height="15.5" fill="#fff" stroke="#e60012" stroke-width="3.6" />
<line x1="754.0" y1="1251.5" x2="789.0" y2="1251.5" stroke="#e60012" stroke-width="3.4" />
</g>
<g id="panel-e">
<text x="936.0" y="1078.0" font-size="48" font-weight="bold" fill="#231815" textLength="26.2" lengthAdjust="spacingAndGlyphs">e</text>
<clipPath id="cce"><rect x="1114" y="1060" width="429.5" height="390"/></clipPath>
<g clip-path="url(#cce)">
<path d="M1114.0,1433.5 L1116.7,1433.5 L1119.4,1433.5 L1122.2,1433.4 L1124.9,1433.4 L1127.6,1433.4 L1130.3,1433.4 L1133.0,1433.3 L1135.8,1433.3 L1138.5,1433.3 L1141.2,1433.2 L1143.9,1433.2 L1146.6,1433.1 L1149.4,1433.1 L1152.1,1433.0 L1154.8,1433.0 L1157.5,1432.9 L1160.2,1432.9 L1163.0,1432.8 L1165.7,1432.7 L1168.4,1432.7 L1171.1,1432.6 L1173.8,1432.6 L1176.6,1432.5 L1179.3,1432.4 L1182.0,1432.4 L1184.7,1432.3 L1187.4,1432.2 L1190.2,1432.2 L1192.9,1432.1 L1195.6,1432.0 L1198.3,1431.9 L1201.0,1431.9 L1203.8,1431.8 L1206.5,1431.7 L1209.2,1431.6 L1211.9,1431.5 L1214.6,1431.4 L1217.4,1431.3 L1220.1,1431.2 L1222.8,1431.1 L1225.5,1431.0 L1228.2,1430.9 L1230.9,1430.8 L1233.7,1430.7 L1236.4,1430.5 L1239.1,1430.4 L1241.8,1430.2 L1244.5,1430.1 L1247.2,1429.9 L1250.0,1429.7 L1252.7,1429.5 L1255.4,1429.3 L1258.1,1429.1 L1260.8,1428.8 L1263.5,1428.6 L1266.2,1428.3 L1268.9,1427.9 L1271.6,1427.6 L1274.3,1427.2 L1277.0,1426.9 L1279.7,1426.4 L1282.5,1426.0 L1285.2,1425.5 L1287.9,1424.9 L1290.6,1424.2 L1293.2,1423.5 L1295.6,1422.6 L1298.0,1421.6 L1300.4,1420.2 L1302.7,1418.4 L1304.8,1416.5 L1306.6,1414.5 L1308.0,1412.5 L1309.3,1410.1 L1310.4,1407.6 L1311.4,1405.0 L1312.3,1402.3 L1313.1,1399.7 L1313.8,1397.1 L1314.4,1394.4 L1315.0,1391.8 L1315.5,1389.1 L1316.0,1386.4 L1316.4,1383.7 L1316.8,1381.0 L1317.3,1378.3 L1317.7,1375.6 L1318.1,1372.9 L1318.4,1370.2 L1318.8,1367.5 L1319.2,1364.8 L1319.5,1362.1 L1319.8,1359.4 L1320.2,1356.7 L1320.5,1354.0 L1320.8,1351.3 L1321.1,1348.6 L1321.4,1345.9 L1321.7,1343.2 L1321.9,1340.5 L1322.2,1337.8 L1322.5,1335.1 L1322.8,1332.4 L1323.0,1329.7 L1323.3,1327.0 L1323.5,1324.3 L1323.8,1321.6 L1324.0,1318.8 L1324.2,1316.1 L1324.4,1313.4 L1324.7,1310.7 L1324.9,1308.0 L1325.1,1305.3 L1325.4,1302.6 L1325.6,1299.9 L1325.8,1297.2 L1326.1,1294.5 L1326.3,1291.7 L1326.6,1289.0 L1326.9,1286.3 L1327.1,1283.6 L1327.4,1280.9 L1327.6,1278.2 L1327.9,1275.5 L1328.2,1272.8 L1328.4,1270.1 L1328.7,1267.4 L1329.0,1264.7 L1329.3,1262.0 L1329.5,1259.3 L1329.8,1256.6 L1330.1,1253.8 L1330.4,1251.1 L1330.7,1248.4 L1330.9,1245.7 L1331.2,1243.0 L1331.5,1240.3 L1331.8,1237.6 L1332.1,1234.9 L1332.3,1232.2 L1332.6,1229.5 L1332.9,1226.8 L1333.2,1224.1 L1333.5,1221.4 L1333.8,1218.7 L1334.1,1216.0 L1334.4,1213.3 L1334.7,1210.6 L1335.0,1207.9 L1335.4,1205.2 L1335.7,1202.5 L1336.0,1199.8 L1336.4,1197.1 L1336.7,1194.4 L1337.1,1191.7 L1337.5,1189.0 L1337.9,1186.3 L1338.3,1183.6 L1338.7,1180.9 L1339.1,1178.2 L1339.5,1175.5 L1339.9,1172.8 L1340.3,1170.1 L1340.8,1167.5 L1341.2,1164.8 L1341.7,1162.1 L1342.2,1159.4 L1342.7,1156.7 L1343.2,1154.1 L1343.7,1151.4 L1344.2,1148.7 L1344.7,1146.0 L1345.2,1143.3 L1345.8,1140.6 L1346.3,1137.9 L1346.9,1135.3 L1347.5,1132.6 L1348.2,1130.0 L1348.8,1127.3 L1349.6,1124.7 L1350.3,1122.2 L1351.1,1119.6 L1352.0,1117.0 L1353.0,1114.4 L1354.0,1111.8 L1355.2,1109.2 L1356.4,1106.6 L1357.7,1104.2 L1359.1,1101.9 L1360.6,1099.7 L1362.2,1097.8 L1363.9,1095.9 L1366.0,1094.1 L1368.2,1092.3 L1370.6,1090.6 L1373.1,1089.1 L1375.6,1088.0 L1378.0,1087.1 L1380.5,1086.6 L1383.1,1086.1 L1385.7,1085.7 L1388.4,1085.3 L1391.2,1085.0 L1393.9,1084.7 L1396.7,1084.4 L1399.5,1084.1 L1402.2,1083.9 L1405.0,1083.6 L1407.7,1083.3 L1410.4,1083.0 L1413.1,1082.8 L1415.8,1082.5 L1418.5,1082.2 L1421.2,1082.0 L1423.9,1081.7 L1426.6,1081.5 L1429.4,1081.3 L1432.1,1081.0 L1434.8,1080.8 L1437.5,1080.6 L1440.2,1080.4 L1442.9,1080.2 L1445.6,1080.0 L1448.3,1079.8 L1451.1,1079.7 L1453.8,1079.5 L1456.5,1079.3 L1459.2,1079.2 L1461.9,1079.0 L1464.6,1078.8 L1467.4,1078.7 L1470.1,1078.5 L1472.8,1078.4 L1475.5,1078.2 L1478.2,1078.1 L1480.9,1078.0 L1483.7,1077.9 L1486.4,1077.8 L1489.1,1077.7 L1491.8,1077.6 L1494.5,1077.5 L1497.3,1077.5 L1500.0,1077.4 L1502.7,1077.4 L1505.4,1077.3 L1508.1,1077.3 L1510.9,1077.3 L1513.6,1077.2 L1516.3,1077.2 L1519.0,1077.2 L1521.7,1077.1 L1524.5,1077.1 L1527.2,1077.1 L1529.9,1077.1 L1532.6,1077.0 L1535.3,1077.0 L1538.1,1077.0 L1540.8,1077.0 L1543.5,1077.0" fill="none" stroke="#9c9c9c" stroke-width="4" stroke-linejoin="round"/>
<path d="M1114.0,1433.0 L1116.7,1433.0 L1119.4,1432.9 L1122.1,1432.9 L1124.8,1432.9 L1127.5,1432.8 L1130.2,1432.8 L1132.9,1432.7 L1135.6,1432.7 L1138.3,1432.6 L1141.0,1432.6 L1143.7,1432.5 L1146.4,1432.5 L1149.1,1432.4 L1151.8,1432.3 L1154.5,1432.3 L1157.2,1432.2 L1159.9,1432.1 L1162.6,1432.1 L1165.3,1432.0 L1168.0,1431.9 L1170.7,1431.8 L1173.4,1431.7 L1176.1,1431.6 L1178.8,1431.6 L1181.5,1431.5 L1184.2,1431.4 L1186.9,1431.3 L1189.6,1431.2 L1192.3,1431.1 L1195.0,1431.0 L1197.7,1430.9 L1200.4,1430.8 L1203.1,1430.7 L1205.8,1430.6 L1208.5,1430.5 L1211.2,1430.4 L1213.9,1430.3 L1216.6,1430.2 L1219.3,1430.1 L1222.0,1429.9 L1224.7,1429.8 L1227.4,1429.7 L1230.1,1429.5 L1232.8,1429.4 L1235.5,1429.2 L1238.2,1429.0 L1240.9,1428.9 L1243.6,1428.7 L1246.3,1428.5 L1249.0,1428.3 L1251.7,1428.0 L1254.4,1427.8 L1257.1,1427.5 L1259.8,1427.2 L1262.5,1426.9 L1265.2,1426.6 L1267.8,1426.2 L1270.5,1425.8 L1273.2,1425.4 L1275.8,1425.0 L1278.5,1424.6 L1281.2,1424.1 L1283.9,1423.5 L1286.6,1422.9 L1289.3,1422.3 L1291.8,1421.5 L1294.3,1420.6 L1296.7,1419.7 L1299.1,1418.4 L1301.5,1416.8 L1303.6,1415.0 L1305.5,1413.1 L1307.0,1411.1 L1308.4,1408.8 L1309.6,1406.3 L1310.7,1403.8 L1311.6,1401.2 L1312.4,1398.6 L1313.1,1396.0 L1313.7,1393.4 L1314.2,1390.7 L1314.7,1388.0 L1315.1,1385.4 L1315.6,1382.7 L1316.0,1380.0 L1316.4,1377.3 L1316.8,1374.7 L1317.2,1372.0 L1317.6,1369.3 L1317.9,1366.6 L1318.2,1364.0 L1318.6,1361.3 L1318.9,1358.6 L1319.2,1355.9 L1319.5,1353.2 L1319.8,1350.5 L1320.1,1347.8 L1320.4,1345.2 L1320.7,1342.5 L1321.0,1339.8 L1321.3,1337.1 L1321.6,1334.4 L1321.9,1331.7 L1322.2,1329.0 L1322.4,1326.3 L1322.7,1323.7 L1323.0,1321.0 L1323.3,1318.3 L1323.5,1315.6 L1323.8,1312.9 L1324.0,1310.2 L1324.3,1307.5 L1324.6,1304.8 L1324.8,1302.1 L1325.1,1299.5 L1325.3,1296.8 L1325.6,1294.1 L1325.9,1291.4 L1326.1,1288.7 L1326.4,1286.0 L1326.7,1283.3 L1326.9,1280.6 L1327.2,1277.9 L1327.4,1275.3 L1327.7,1272.6 L1328.0,1269.9 L1328.2,1267.2 L1328.5,1264.5 L1328.8,1261.8 L1329.0,1259.1 L1329.3,1256.4 L1329.6,1253.7 L1329.9,1251.1 L1330.2,1248.4 L1330.5,1245.7 L1330.8,1243.0 L1331.1,1240.3 L1331.4,1237.6 L1331.7,1234.9 L1332.0,1232.3 L1332.3,1229.6 L1332.6,1226.9 L1332.9,1224.2 L1333.2,1221.5 L1333.5,1218.8 L1333.9,1216.2 L1334.2,1213.5 L1334.6,1210.8 L1334.9,1208.1 L1335.3,1205.4 L1335.6,1202.8 L1336.0,1200.1 L1336.4,1197.4 L1336.8,1194.7 L1337.1,1192.1 L1337.5,1189.4 L1337.9,1186.7 L1338.4,1184.0 L1338.8,1181.4 L1339.2,1178.7 L1339.7,1176.0 L1340.1,1173.4 L1340.6,1170.7 L1341.0,1168.0 L1341.5,1165.4 L1342.0,1162.7 L1342.5,1160.1 L1343.0,1157.4 L1343.5,1154.8 L1344.1,1152.1 L1344.6,1149.5 L1345.1,1146.8 L1345.7,1144.1 L1346.2,1141.4 L1346.8,1138.8 L1347.4,1136.1 L1348.0,1133.4 L1348.7,1130.8 L1349.4,1128.2 L1350.1,1125.6 L1350.9,1123.1 L1351.8,1120.6 L1352.7,1118.1 L1353.8,1115.6 L1354.9,1113.1 L1356.2,1110.6 L1357.6,1108.2 L1359.0,1105.9 L1360.6,1103.6 L1362.2,1101.5 L1363.9,1099.6 L1365.7,1097.7 L1367.7,1095.8 L1369.9,1093.9 L1372.2,1092.3 L1374.5,1090.8 L1376.9,1089.6 L1379.3,1088.7 L1381.8,1088.0 L1384.3,1087.4 L1386.9,1086.9 L1389.6,1086.3 L1392.3,1085.9 L1395.0,1085.5 L1397.8,1085.1 L1400.5,1084.7 L1403.3,1084.4 L1406.0,1084.0 L1408.6,1083.7 L1411.3,1083.3 L1414.0,1083.0 L1416.7,1082.7 L1419.4,1082.4 L1422.1,1082.1 L1424.7,1081.8 L1427.4,1081.5 L1430.1,1081.3 L1432.8,1081.0 L1435.5,1080.8 L1438.2,1080.6 L1440.9,1080.4 L1443.6,1080.2 L1446.3,1080.0 L1449.0,1079.8 L1451.7,1079.6 L1454.4,1079.4 L1457.1,1079.3 L1459.8,1079.1 L1462.5,1078.9 L1465.2,1078.8 L1467.9,1078.6 L1470.6,1078.5 L1473.3,1078.3 L1476.0,1078.2 L1478.7,1078.1 L1481.4,1077.9 L1484.1,1077.8 L1486.8,1077.7 L1489.5,1077.7 L1492.2,1077.6 L1494.9,1077.5 L1497.6,1077.5 L1500.3,1077.4 L1503.0,1077.4 L1505.7,1077.3 L1508.4,1077.3 L1511.1,1077.3 L1513.8,1077.2 L1516.5,1077.2 L1519.2,1077.2 L1521.9,1077.1 L1524.6,1077.1 L1527.3,1077.1 L1530.0,1077.1 L1532.7,1077.0 L1535.4,1077.0 L1538.1,1077.0 L1540.8,1077.0 L1543.5,1077.0" fill="none" stroke="#e60012" stroke-width="3.6" stroke-linejoin="round"/>
</g>
<rect x="1114.0" y="1060.0" width="429.5" height="390.0" fill="none" stroke="#000" stroke-width="3.4" />
<rect x="1553.0" y="1060.0" width="142.0" height="390.0" fill="none" stroke="#000" stroke-width="3.4" />
<line x1="1101.0" y1="1076.8" x2="1113.0" y2="1076.8" stroke="#231815" stroke-width="3.1" />
<text x="1097.4" y="1086.0" font-size="27.5" text-anchor="end" fill="#231815" textLength="51.5" lengthAdjust="spacingAndGlyphs">1.00</text>
<line x1="1101.0" y1="1165.7" x2="1113.0" y2="1165.7" stroke="#231815" stroke-width="3.1" />
<text x="1097.4" y="1175.0" font-size="27.5" text-anchor="end" fill="#231815" textLength="51.5" lengthAdjust="spacingAndGlyphs">0.75</text>
<line x1="1101.0" y1="1254.7" x2="1113.0" y2="1254.7" stroke="#231815" stroke-width="3.1" />
<text x="1097.4" y="1264.0" font-size="27.5" text-anchor="end" fill="#231815" textLength="51.5" lengthAdjust="spacingAndGlyphs">0.50</text>
<line x1="1101.0" y1="1343.6" x2="1113.0" y2="1343.6" stroke="#231815" stroke-width="3.1" />
<text x="1097.4" y="1352.9" font-size="27.5" text-anchor="end" fill="#231815" textLength="51.5" lengthAdjust="spacingAndGlyphs">0.25</text>
<line x1="1101.0" y1="1432.5" x2="1113.0" y2="1432.5" stroke="#231815" stroke-width="3.1" />
<text x="1097.4" y="1441.8" font-size="27.5" text-anchor="end" fill="#231815" textLength="51.5" lengthAdjust="spacingAndGlyphs">0.00</text>
<text x="1028.2" y="1253.5" font-size="31" text-anchor="middle" fill="#231815" transform="rotate(-90 1028.2 1253.5)" textLength="260.0" lengthAdjust="spacingAndGlyphs">Cumulative fraction</text>
<line x1="1134.4" y1="1451.5" x2="1134.4" y2="1463.0" stroke="#231815" stroke-width="3.1" />
<text x="1132.9" y="1487.0" font-size="27" text-anchor="middle" fill="#231815">-2</text>
<line x1="1231.8" y1="1451.5" x2="1231.8" y2="1463.0" stroke="#231815" stroke-width="3.1" />
<text x="1230.3" y="1487.0" font-size="27" text-anchor="middle" fill="#231815">-1</text>
<line x1="1329.2" y1="1451.5" x2="1329.2" y2="1463.0" stroke="#231815" stroke-width="3.1" />
<text x="1329.2" y="1487.0" font-size="27" text-anchor="middle" fill="#231815">0</text>
<line x1="1426.6" y1="1451.5" x2="1426.6" y2="1463.0" stroke="#231815" stroke-width="3.1" />
<text x="1426.6" y="1487.0" font-size="27" text-anchor="middle" fill="#231815">1</text>
<line x1="1524.0" y1="1451.5" x2="1524.0" y2="1463.0" stroke="#231815" stroke-width="3.1" />
<text x="1524.0" y="1487.0" font-size="27" text-anchor="middle" fill="#231815">2</text>
<text x="1329.0" y="1522.0" font-size="31" text-anchor="middle" fill="#231815" textLength="112.0" lengthAdjust="spacingAndGlyphs">log<tspan font-size="15.5" font-weight="bold">2</tspan>(FC)</text>
<line x1="1696.5" y1="1076.8" x2="1712.5" y2="1076.8" stroke="#231815" stroke-width="3.1" />
<text x="1720.5" y="1084.2" font-size="27" fill="#231815">2</text>
<line x1="1696.5" y1="1254.7" x2="1712.5" y2="1254.7" stroke="#231815" stroke-width="3.1" />
<text x="1720.5" y="1262.2" font-size="27" fill="#231815">0</text>
<line x1="1696.5" y1="1432.5" x2="1712.5" y2="1432.5" stroke="#231815" stroke-width="3.1" />
<text x="1716.0" y="1440.0" font-size="27" fill="#231815">-2</text>
<text x="1750.4" y="1251.2" font-size="31" text-anchor="middle" fill="#231815" transform="rotate(90 1750.4 1251.2)" textLength="111.5" lengthAdjust="spacingAndGlyphs">log<tspan font-size="15.5" font-weight="bold">2</tspan>(FC)</text>
<text x="1130.0" y="1089.5" font-size="23" fill="#231815" textLength="100.5" lengthAdjust="spacingAndGlyphs">HEK293T</text>
<text x="1130.0" y="1117.6" font-size="23" fill="#231815" textLength="176.0" lengthAdjust="spacingAndGlyphs">+ YTHDF1/3-Mut</text>
<text x="1130.0" y="1157.8" font-size="23" fill="#231815">P = 0.74</text>
<line x1="1131.2" y1="1176.6" x2="1150.8" y2="1176.6" stroke="#9c9c9c" stroke-width="3.2" />
<text x="1155.0" y="1182.5" font-size="23.5" fill="#231815" textLength="110.5" lengthAdjust="spacingAndGlyphs">Non-target</text>
<line x1="1131.2" y1="1204.1" x2="1150.8" y2="1204.1" stroke="#e60012" stroke-width="3.2" />
<text x="1155.0" y="1210.6" font-size="23.5" fill="#231815" textLength="177.0" lengthAdjust="spacingAndGlyphs">YTHDF1/3 target</text>
<line x1="1591.5" y1="1216.5" x2="1591.5" y2="1243.5" stroke="#9c9c9c" stroke-width="3.3" />
<line x1="1591.5" y1="1262.5" x2="1591.5" y2="1288.5" stroke="#9c9c9c" stroke-width="3.3" />
<rect x="1575.7" y="1245.0" width="31.6" height="16.0" fill="#fff" stroke="#9c9c9c" stroke-width="3.6" />
<line x1="1574.0" y1="1254.0" x2="1609.0" y2="1254.0" stroke="#9c9c9c" stroke-width="3.4" />
<line x1="1656.5" y1="1219.0" x2="1656.5" y2="1243.5" stroke="#e60012" stroke-width="3.3" />
<line x1="1656.5" y1="1261.5" x2="1656.5" y2="1285.0" stroke="#e60012" stroke-width="3.3" />
<rect x="1640.7" y="1245.0" width="31.6" height="15.0" fill="#fff" stroke="#e60012" stroke-width="3.6" />
<line x1="1639.0" y1="1252.5" x2="1674.0" y2="1252.5" stroke="#e60012" stroke-width="3.4" />
</g>
<g id="panel-f">
<text x="62.5" y="1609.0" font-size="48" font-weight="bold" fill="#231815" textLength="15.7" lengthAdjust="spacingAndGlyphs">f</text>
<clipPath id="ccf"><rect x="229" y="1592" width="429.5" height="390"/></clipPath>
<g clip-path="url(#ccf)">
<path d="M229.0,1965.5 L231.8,1965.5 L234.5,1965.5 L237.3,1965.5 L240.1,1965.5 L242.8,1965.5 L245.6,1965.5 L248.4,1965.5 L251.1,1965.5 L253.9,1965.5 L256.7,1965.4 L259.4,1965.4 L262.2,1965.4 L265.0,1965.4 L267.7,1965.4 L270.5,1965.4 L273.3,1965.4 L276.0,1965.4 L278.8,1965.3 L281.6,1965.3 L284.3,1965.3 L287.1,1965.3 L289.9,1965.3 L292.6,1965.2 L295.4,1965.2 L298.2,1965.2 L300.9,1965.2 L303.7,1965.2 L306.5,1965.1 L309.2,1965.1 L312.0,1965.1 L314.8,1965.1 L317.5,1965.0 L320.3,1965.0 L323.1,1965.0 L325.8,1964.9 L328.6,1964.9 L331.4,1964.8 L334.1,1964.8 L336.9,1964.7 L339.7,1964.6 L342.4,1964.5 L345.2,1964.4 L348.0,1964.3 L350.7,1964.2 L353.5,1964.1 L356.2,1963.9 L359.0,1963.7 L361.8,1963.5 L364.5,1963.1 L367.3,1962.8 L370.0,1962.4 L372.8,1961.9 L375.5,1961.4 L378.2,1961.0 L380.9,1960.4 L383.7,1959.8 L386.4,1959.2 L389.1,1958.4 L391.7,1957.5 L394.1,1956.5 L396.5,1955.1 L398.8,1953.5 L401.0,1951.7 L403.1,1949.9 L405.2,1948.1 L407.2,1946.2 L409.2,1944.2 L411.0,1942.2 L412.8,1940.0 L414.4,1937.8 L416.0,1935.6 L417.6,1933.2 L419.0,1930.8 L420.3,1928.4 L421.5,1925.9 L422.6,1923.4 L423.6,1920.9 L424.6,1918.2 L425.5,1915.6 L426.3,1912.9 L427.1,1910.3 L427.8,1907.6 L428.5,1904.9 L429.2,1902.3 L429.8,1899.6 L430.5,1896.9 L431.0,1894.2 L431.6,1891.5 L432.2,1888.7 L432.7,1886.0 L433.2,1883.3 L433.7,1880.6 L434.1,1877.8 L434.5,1875.1 L434.9,1872.4 L435.3,1869.6 L435.7,1866.9 L436.1,1864.1 L436.4,1861.4 L436.7,1858.7 L437.0,1855.9 L437.3,1853.1 L437.6,1850.4 L437.9,1847.6 L438.2,1844.9 L438.5,1842.1 L438.8,1839.4 L439.0,1836.6 L439.3,1833.9 L439.6,1831.1 L439.9,1828.4 L440.1,1825.6 L440.4,1822.9 L440.7,1820.1 L440.9,1817.3 L441.2,1814.6 L441.4,1811.8 L441.7,1809.1 L441.9,1806.3 L442.2,1803.6 L442.4,1800.8 L442.6,1798.1 L442.9,1795.3 L443.1,1792.5 L443.3,1789.8 L443.6,1787.0 L443.8,1784.3 L444.0,1781.5 L444.3,1778.8 L444.5,1776.0 L444.7,1773.2 L445.0,1770.5 L445.2,1767.7 L445.4,1765.0 L445.6,1762.2 L445.9,1759.5 L446.1,1756.7 L446.3,1753.9 L446.5,1751.2 L446.7,1748.4 L447.0,1745.7 L447.2,1742.9 L447.4,1740.1 L447.6,1737.4 L447.8,1734.6 L448.0,1731.9 L448.2,1729.1 L448.4,1726.3 L448.6,1723.6 L448.8,1720.8 L449.0,1718.1 L449.2,1715.3 L449.3,1712.5 L449.5,1709.8 L449.7,1707.0 L449.9,1704.3 L450.1,1701.5 L450.3,1698.7 L450.4,1696.0 L450.6,1693.2 L450.8,1690.5 L451.0,1687.7 L451.3,1684.9 L451.5,1682.2 L451.7,1679.4 L451.9,1676.7 L452.1,1673.9 L452.4,1671.1 L452.6,1668.4 L452.8,1665.6 L453.1,1662.8 L453.3,1660.0 L453.6,1657.3 L453.9,1654.5 L454.2,1651.8 L454.5,1649.0 L454.9,1646.3 L455.2,1643.6 L455.7,1640.9 L456.2,1638.2 L456.8,1635.4 L457.5,1632.7 L458.4,1630.0 L459.3,1627.3 L460.3,1624.8 L461.3,1622.3 L462.6,1619.9 L464.3,1617.4 L466.1,1615.1 L468.2,1613.4 L470.4,1612.4 L473.0,1611.6 L475.7,1610.9 L478.6,1610.3 L481.4,1610.0 L484.2,1609.9 L486.9,1609.8 L489.7,1609.6 L492.4,1609.5 L495.2,1609.4 L498.0,1609.3 L500.7,1609.2 L503.5,1609.2 L506.3,1609.1 L509.1,1609.1 L511.8,1609.0 L514.6,1609.0 L517.4,1609.0 L520.2,1609.0 L522.9,1609.0 L525.7,1609.0 L528.5,1609.0 L531.2,1609.0 L534.0,1609.0 L536.8,1609.0 L539.5,1609.0 L542.3,1609.0 L545.1,1609.0 L547.8,1609.0 L550.6,1609.0 L553.4,1609.0 L556.1,1609.0 L558.9,1609.0 L561.7,1609.0 L564.4,1609.0 L567.2,1609.0 L570.0,1609.0 L572.7,1609.0 L575.5,1609.0 L578.3,1609.0 L581.0,1609.0 L583.8,1609.0 L586.6,1609.0 L589.3,1609.0 L592.1,1609.0 L594.9,1609.0 L597.6,1609.0 L600.4,1609.0 L603.2,1609.0 L605.9,1609.0 L608.7,1609.0 L611.5,1609.0 L614.2,1609.0 L617.0,1609.0 L619.8,1609.0 L622.5,1609.0 L625.3,1609.0 L628.1,1609.0 L630.8,1609.0 L633.6,1609.0 L636.4,1609.0 L639.1,1609.0 L641.9,1609.0 L644.7,1609.0 L647.4,1609.0 L650.2,1609.0 L653.0,1609.0 L655.7,1609.0 L658.5,1609.0" fill="none" stroke="#9c9c9c" stroke-width="4" stroke-linejoin="round"/>
<path d="M229.0,1965.5 L231.8,1965.5 L234.5,1965.5 L237.3,1965.5 L240.0,1965.5 L242.8,1965.5 L245.6,1965.5 L248.3,1965.5 L251.1,1965.5 L253.8,1965.5 L256.6,1965.5 L259.3,1965.4 L262.1,1965.4 L264.9,1965.4 L267.6,1965.4 L270.4,1965.4 L273.1,1965.4 L275.9,1965.4 L278.6,1965.4 L281.4,1965.3 L284.1,1965.3 L286.9,1965.3 L289.7,1965.3 L292.4,1965.3 L295.2,1965.2 L297.9,1965.2 L300.7,1965.2 L303.4,1965.2 L306.2,1965.1 L308.9,1965.1 L311.7,1965.1 L314.4,1965.1 L317.2,1965.0 L319.9,1965.0 L322.7,1965.0 L325.5,1964.9 L328.2,1964.8 L331.0,1964.7 L333.7,1964.6 L336.5,1964.4 L339.2,1964.2 L342.0,1964.1 L344.7,1963.9 L347.5,1963.6 L350.2,1963.4 L353.0,1963.2 L355.7,1962.9 L358.4,1962.6 L361.2,1962.2 L363.9,1961.8 L366.6,1961.3 L369.3,1960.8 L372.0,1960.2 L374.7,1959.6 L377.4,1958.9 L380.2,1958.2 L382.9,1957.4 L385.5,1956.5 L388.0,1955.5 L390.3,1954.3 L392.4,1952.6 L394.2,1950.4 L396.1,1948.3 L398.2,1946.5 L400.6,1945.1 L403.1,1943.8 L405.5,1942.4 L407.6,1940.9 L409.5,1939.0 L411.3,1936.9 L413.0,1934.6 L414.5,1932.3 L416.0,1929.8 L417.3,1927.4 L418.5,1925.0 L419.6,1922.5 L420.7,1919.9 L421.7,1917.3 L422.6,1914.7 L423.5,1912.1 L424.3,1909.4 L425.1,1906.8 L425.8,1904.1 L426.5,1901.5 L427.2,1898.8 L427.8,1896.1 L428.4,1893.4 L429.0,1890.7 L429.6,1888.0 L430.1,1885.3 L430.7,1882.6 L431.2,1879.9 L431.6,1877.2 L432.1,1874.5 L432.5,1871.7 L433.0,1869.0 L433.4,1866.3 L433.7,1863.6 L434.1,1860.8 L434.5,1858.1 L434.8,1855.4 L435.2,1852.6 L435.5,1849.9 L435.8,1847.2 L436.1,1844.4 L436.4,1841.7 L436.7,1838.9 L437.0,1836.2 L437.3,1833.5 L437.6,1830.7 L437.9,1828.0 L438.2,1825.2 L438.5,1822.5 L438.8,1819.8 L439.1,1817.0 L439.4,1814.3 L439.7,1811.5 L440.0,1808.8 L440.2,1806.0 L440.5,1803.3 L440.8,1800.6 L441.0,1797.8 L441.3,1795.1 L441.6,1792.3 L441.8,1789.6 L442.1,1786.8 L442.3,1784.1 L442.6,1781.4 L442.8,1778.6 L443.0,1775.9 L443.3,1773.1 L443.5,1770.4 L443.7,1767.6 L444.0,1764.9 L444.2,1762.1 L444.4,1759.4 L444.6,1756.6 L444.8,1753.9 L445.0,1751.1 L445.3,1748.4 L445.5,1745.6 L445.7,1742.9 L445.9,1740.1 L446.1,1737.4 L446.3,1734.6 L446.5,1731.9 L446.7,1729.2 L446.9,1726.4 L447.1,1723.7 L447.3,1720.9 L447.5,1718.2 L447.6,1715.4 L447.8,1712.7 L448.0,1709.9 L448.2,1707.2 L448.4,1704.4 L448.6,1701.7 L448.7,1698.9 L448.9,1696.2 L449.1,1693.4 L449.3,1690.7 L449.5,1687.9 L449.7,1685.2 L450.0,1682.4 L450.2,1679.7 L450.4,1676.9 L450.6,1674.2 L450.8,1671.4 L451.1,1668.6 L451.3,1665.9 L451.5,1663.1 L451.8,1660.4 L452.0,1657.6 L452.3,1654.9 L452.6,1652.1 L452.9,1649.4 L453.3,1646.7 L453.7,1644.0 L454.1,1641.3 L454.6,1638.6 L455.2,1635.8 L455.9,1633.1 L456.7,1630.4 L457.6,1627.7 L458.6,1625.2 L459.6,1622.7 L460.9,1620.3 L462.4,1617.8 L464.3,1615.5 L466.3,1613.7 L468.5,1612.6 L471.0,1611.7 L473.7,1610.9 L476.6,1610.4 L479.4,1610.0 L482.1,1609.9 L484.8,1609.8 L487.6,1609.6 L490.3,1609.5 L493.1,1609.4 L495.8,1609.3 L498.6,1609.3 L501.3,1609.2 L504.1,1609.1 L506.9,1609.1 L509.6,1609.1 L512.4,1609.0 L515.2,1609.0 L517.9,1609.0 L520.7,1609.0 L523.5,1609.0 L526.2,1609.0 L529.0,1609.0 L531.7,1609.0 L534.5,1609.0 L537.2,1609.0 L540.0,1609.0 L542.7,1609.0 L545.5,1609.0 L548.3,1609.0 L551.0,1609.0 L553.8,1609.0 L556.5,1609.0 L559.3,1609.0 L562.0,1609.0 L564.8,1609.0 L567.5,1609.0 L570.3,1609.0 L573.1,1609.0 L575.8,1609.0 L578.6,1609.0 L581.3,1609.0 L584.1,1609.0 L586.8,1609.0 L589.6,1609.0 L592.3,1609.0 L595.1,1609.0 L597.9,1609.0 L600.6,1609.0 L603.4,1609.0 L606.1,1609.0 L608.9,1609.0 L611.6,1609.0 L614.4,1609.0 L617.2,1609.0 L619.9,1609.0 L622.7,1609.0 L625.4,1609.0 L628.2,1609.0 L630.9,1609.0 L633.7,1609.0 L636.4,1609.0 L639.2,1609.0 L642.0,1609.0 L644.7,1609.0 L647.5,1609.0 L650.2,1609.0 L653.0,1609.0 L655.7,1609.0 L658.5,1609.0" fill="none" stroke="#e60012" stroke-width="3.6" stroke-linejoin="round"/>
</g>
<rect x="229.0" y="1592.0" width="429.5" height="390.0" fill="none" stroke="#000" stroke-width="3.4" />
<rect x="668.0" y="1592.0" width="142.0" height="390.0" fill="none" stroke="#000" stroke-width="3.4" />
<line x1="216.0" y1="1608.8" x2="228.0" y2="1608.8" stroke="#231815" stroke-width="3.1" />
<text x="212.4" y="1618.0" font-size="27.5" text-anchor="end" fill="#231815" textLength="51.5" lengthAdjust="spacingAndGlyphs">1.00</text>
<line x1="216.0" y1="1697.7" x2="228.0" y2="1697.7" stroke="#231815" stroke-width="3.1" />
<text x="212.4" y="1707.0" font-size="27.5" text-anchor="end" fill="#231815" textLength="51.5" lengthAdjust="spacingAndGlyphs">0.75</text>
<line x1="216.0" y1="1786.7" x2="228.0" y2="1786.7" stroke="#231815" stroke-width="3.1" />
<text x="212.4" y="1796.0" font-size="27.5" text-anchor="end" fill="#231815" textLength="51.5" lengthAdjust="spacingAndGlyphs">0.50</text>
<line x1="216.0" y1="1875.6" x2="228.0" y2="1875.6" stroke="#231815" stroke-width="3.1" />
<text x="212.4" y="1884.9" font-size="27.5" text-anchor="end" fill="#231815" textLength="51.5" lengthAdjust="spacingAndGlyphs">0.25</text>
<line x1="216.0" y1="1964.5" x2="228.0" y2="1964.5" stroke="#231815" stroke-width="3.1" />
<text x="212.4" y="1973.8" font-size="27.5" text-anchor="end" fill="#231815" textLength="51.5" lengthAdjust="spacingAndGlyphs">0.00</text>
<text x="143.2" y="1785.5" font-size="31" text-anchor="middle" fill="#231815" transform="rotate(-90 143.2 1785.5)" textLength="260.0" lengthAdjust="spacingAndGlyphs">Cumulative fraction</text>
<line x1="249.4" y1="1983.5" x2="249.4" y2="1995.0" stroke="#231815" stroke-width="3.1" />
<text x="247.9" y="2019.0" font-size="27" text-anchor="middle" fill="#231815">-2</text>
<line x1="346.8" y1="1983.5" x2="346.8" y2="1995.0" stroke="#231815" stroke-width="3.1" />
<text x="345.3" y="2019.0" font-size="27" text-anchor="middle" fill="#231815">-1</text>
<line x1="444.2" y1="1983.5" x2="444.2" y2="1995.0" stroke="#231815" stroke-width="3.1" />
<text x="444.2" y="2019.0" font-size="27" text-anchor="middle" fill="#231815">0</text>
<line x1="541.6" y1="1983.5" x2="541.6" y2="1995.0" stroke="#231815" stroke-width="3.1" />
<text x="541.6" y="2019.0" font-size="27" text-anchor="middle" fill="#231815">1</text>
<line x1="639.0" y1="1983.5" x2="639.0" y2="1995.0" stroke="#231815" stroke-width="3.1" />
<text x="639.0" y="2019.0" font-size="27" text-anchor="middle" fill="#231815">2</text>
<text x="444.0" y="2054.0" font-size="31" text-anchor="middle" fill="#231815" textLength="112.0" lengthAdjust="spacingAndGlyphs">log<tspan font-size="15.5" font-weight="bold">2</tspan>(FC)</text>
<line x1="811.5" y1="1608.8" x2="827.5" y2="1608.8" stroke="#231815" stroke-width="3.1" />
<text x="835.5" y="1617.3" font-size="27" fill="#231815">2</text>
<line x1="811.5" y1="1786.7" x2="827.5" y2="1786.7" stroke="#231815" stroke-width="3.1" />
<text x="835.5" y="1795.2" font-size="27" fill="#231815">0</text>
<line x1="811.5" y1="1964.5" x2="827.5" y2="1964.5" stroke="#231815" stroke-width="3.1" />
<text x="831.0" y="1973.1" font-size="27" fill="#231815">-2</text>
<text x="865.4" y="1785.7" font-size="31" text-anchor="middle" fill="#231815" transform="rotate(90 865.4 1785.7)" textLength="111.5" lengthAdjust="spacingAndGlyphs">log<tspan font-size="15.5" font-weight="bold">2</tspan>(FC)</text>
<text x="245.0" y="1621.5" font-size="23" fill="#231815">HeLa</text>
<text x="245.0" y="1649.6" font-size="23" fill="#231815" textLength="174.5" lengthAdjust="spacingAndGlyphs">+ WT-YTHDF1/3</text>
<text x="245.0" y="1686.2" font-size="23" fill="#231815">P = 1.8×10<tspan font-size="14" dy="-9">−13</tspan></text>
<line x1="246.2" y1="1705.0" x2="265.8" y2="1705.0" stroke="#9c9c9c" stroke-width="3.2" />
<text x="270.0" y="1710.9" font-size="23.5" fill="#231815" textLength="110.5" lengthAdjust="spacingAndGlyphs">Non-target</text>
<line x1="246.2" y1="1732.5" x2="265.8" y2="1732.5" stroke="#e60012" stroke-width="3.2" />
<text x="270.0" y="1739.0" font-size="23.5" fill="#231815" textLength="177.0" lengthAdjust="spacingAndGlyphs">YTHDF1/3 target</text>
<line x1="706.5" y1="1758.0" x2="706.5" y2="1779.5" stroke="#9c9c9c" stroke-width="3.3" />
<line x1="706.5" y1="1796.0" x2="706.5" y2="1818.0" stroke="#9c9c9c" stroke-width="3.3" />
<rect x="690.7" y="1781.0" width="31.6" height="13.5" fill="#fff" stroke="#9c9c9c" stroke-width="3.6" />
<line x1="689.0" y1="1785.5" x2="724.0" y2="1785.5" stroke="#9c9c9c" stroke-width="3.4" />
<line x1="771.5" y1="1756.0" x2="771.5" y2="1780.5" stroke="#e60012" stroke-width="3.3" />
<line x1="771.5" y1="1800.5" x2="771.5" y2="1825.5" stroke="#e60012" stroke-width="3.3" />
<rect x="755.7" y="1782.0" width="31.6" height="17.0" fill="#fff" stroke="#e60012" stroke-width="3.6" />
<line x1="754.0" y1="1788.5" x2="789.0" y2="1788.5" stroke="#e60012" stroke-width="3.4" />
</g>
<g id="panel-g">
<text x="936.8" y="1609.8" font-size="48" font-weight="bold" fill="#231815" textLength="28.7" lengthAdjust="spacingAndGlyphs">g</text>
<clipPath id="ccg"><rect x="1114" y="1592" width="429.5" height="390"/></clipPath>
<g clip-path="url(#ccg)">
<path d="M1114.0,1965.5 L1116.7,1965.5 L1119.4,1965.5 L1122.1,1965.5 L1124.8,1965.5 L1127.5,1965.5 L1130.2,1965.5 L1132.9,1965.5 L1135.6,1965.5 L1138.3,1965.5 L1141.0,1965.5 L1143.7,1965.4 L1146.4,1965.4 L1149.1,1965.4 L1151.8,1965.4 L1154.5,1965.4 L1157.2,1965.4 L1159.9,1965.4 L1162.6,1965.4 L1165.3,1965.3 L1168.0,1965.3 L1170.7,1965.3 L1173.4,1965.3 L1176.1,1965.3 L1178.8,1965.2 L1181.5,1965.2 L1184.2,1965.2 L1186.9,1965.2 L1189.6,1965.2 L1192.3,1965.1 L1195.0,1965.1 L1197.7,1965.1 L1200.4,1965.1 L1203.1,1965.0 L1205.8,1965.0 L1208.5,1965.0 L1211.2,1964.9 L1213.9,1964.9 L1216.6,1964.8 L1219.3,1964.7 L1222.0,1964.7 L1224.7,1964.6 L1227.4,1964.5 L1230.1,1964.4 L1232.8,1964.3 L1235.5,1964.1 L1238.2,1964.0 L1240.9,1963.8 L1243.6,1963.6 L1246.4,1963.3 L1249.1,1963.0 L1251.8,1962.6 L1254.5,1962.2 L1257.2,1961.7 L1259.8,1961.2 L1262.3,1960.7 L1264.8,1960.0 L1267.3,1959.0 L1269.8,1957.7 L1272.2,1956.3 L1274.5,1954.7 L1276.7,1953.1 L1278.7,1951.4 L1280.6,1949.6 L1282.4,1947.6 L1284.2,1945.4 L1285.8,1943.2 L1287.4,1941.0 L1288.8,1938.7 L1290.2,1936.4 L1291.5,1934.1 L1292.8,1931.7 L1294.0,1929.2 L1295.1,1926.7 L1296.1,1924.2 L1297.1,1921.7 L1298.0,1919.2 L1298.9,1916.7 L1299.7,1914.1 L1300.4,1911.5 L1301.2,1908.9 L1301.9,1906.3 L1302.6,1903.7 L1303.3,1901.0 L1303.9,1898.4 L1304.6,1895.8 L1305.2,1893.1 L1305.9,1890.5 L1306.5,1887.9 L1307.1,1885.3 L1307.7,1882.6 L1308.2,1880.0 L1308.8,1877.3 L1309.3,1874.7 L1309.9,1872.1 L1310.4,1869.4 L1311.0,1866.8 L1311.5,1864.1 L1312.1,1861.5 L1312.6,1858.8 L1313.2,1856.2 L1313.8,1853.5 L1314.3,1850.9 L1314.9,1848.3 L1315.5,1845.6 L1316.1,1843.0 L1316.7,1840.4 L1317.3,1837.7 L1317.8,1835.1 L1318.4,1832.4 L1319.0,1829.8 L1319.5,1827.1 L1320.0,1824.5 L1320.5,1821.9 L1321.0,1819.2 L1321.5,1816.5 L1321.9,1813.9 L1322.4,1811.2 L1322.8,1808.6 L1323.3,1805.9 L1323.7,1803.2 L1324.1,1800.6 L1324.5,1797.9 L1325.0,1795.2 L1325.4,1792.5 L1325.8,1789.9 L1326.2,1787.2 L1326.6,1784.5 L1327.0,1781.9 L1327.4,1779.2 L1327.8,1776.5 L1328.3,1773.9 L1328.7,1771.2 L1329.1,1768.5 L1329.5,1765.8 L1329.9,1763.2 L1330.3,1760.5 L1330.6,1757.8 L1331.0,1755.2 L1331.4,1752.5 L1331.8,1749.8 L1332.2,1747.1 L1332.6,1744.5 L1333.0,1741.8 L1333.4,1739.1 L1333.8,1736.5 L1334.2,1733.8 L1334.6,1731.1 L1335.0,1728.4 L1335.4,1725.8 L1335.8,1723.1 L1336.2,1720.4 L1336.6,1717.8 L1337.0,1715.1 L1337.4,1712.4 L1337.8,1709.7 L1338.2,1707.1 L1338.6,1704.4 L1339.0,1701.7 L1339.5,1699.1 L1339.9,1696.4 L1340.3,1693.7 L1340.8,1691.1 L1341.2,1688.4 L1341.7,1685.7 L1342.1,1683.1 L1342.6,1680.4 L1343.0,1677.8 L1343.5,1675.1 L1344.0,1672.4 L1344.5,1669.8 L1345.0,1667.1 L1345.5,1664.5 L1346.0,1661.8 L1346.5,1659.2 L1347.0,1656.5 L1347.5,1653.8 L1348.1,1651.2 L1348.6,1648.5 L1349.2,1645.9 L1349.8,1643.3 L1350.5,1640.7 L1351.2,1638.1 L1351.9,1635.5 L1352.7,1632.8 L1353.6,1630.2 L1354.5,1627.5 L1355.6,1625.0 L1356.7,1622.6 L1358.0,1620.3 L1359.4,1618.3 L1361.3,1616.2 L1363.5,1614.3 L1365.8,1612.8 L1368.1,1611.8 L1370.6,1611.0 L1373.3,1610.4 L1376.0,1609.9 L1378.8,1609.6 L1381.5,1609.4 L1384.1,1609.4 L1386.8,1609.3 L1389.5,1609.2 L1392.2,1609.1 L1394.9,1609.1 L1397.6,1609.1 L1400.4,1609.0 L1403.1,1609.0 L1405.8,1609.0 L1408.5,1609.0 L1411.2,1609.0 L1413.9,1609.0 L1416.6,1609.0 L1419.3,1609.0 L1422.0,1609.0 L1424.7,1609.0 L1427.4,1609.0 L1430.1,1609.0 L1432.8,1609.0 L1435.5,1609.0 L1438.2,1609.0 L1440.9,1609.0 L1443.6,1609.0 L1446.3,1609.0 L1449.0,1609.0 L1451.7,1609.0 L1454.4,1609.0 L1457.1,1609.0 L1459.8,1609.0 L1462.5,1609.0 L1465.2,1609.0 L1467.9,1609.0 L1470.6,1609.0 L1473.3,1609.0 L1476.0,1609.0 L1478.7,1609.0 L1481.4,1609.0 L1484.1,1609.0 L1486.8,1609.0 L1489.5,1609.0 L1492.2,1609.0 L1494.9,1609.0 L1497.6,1609.0 L1500.3,1609.0 L1503.0,1609.0 L1505.7,1609.0 L1508.4,1609.0 L1511.1,1609.0 L1513.8,1609.0 L1516.5,1609.0 L1519.2,1609.0 L1521.9,1609.0 L1524.6,1609.0 L1527.3,1609.0 L1530.0,1609.0 L1532.7,1609.0 L1535.4,1609.0 L1538.1,1609.0 L1540.8,1609.0 L1543.5,1609.0" fill="none" stroke="#9c9c9c" stroke-width="4" stroke-linejoin="round"/>
<path d="M1114.0,1965.5 L1116.7,1965.5 L1119.4,1965.5 L1122.1,1965.5 L1124.8,1965.5 L1127.5,1965.5 L1130.2,1965.5 L1132.9,1965.5 L1135.6,1965.5 L1138.3,1965.5 L1141.0,1965.5 L1143.7,1965.5 L1146.4,1965.4 L1149.1,1965.4 L1151.8,1965.4 L1154.5,1965.4 L1157.2,1965.4 L1159.9,1965.4 L1162.5,1965.4 L1165.2,1965.4 L1167.9,1965.3 L1170.6,1965.3 L1173.3,1965.3 L1176.0,1965.3 L1178.7,1965.3 L1181.4,1965.2 L1184.1,1965.2 L1186.8,1965.2 L1189.5,1965.2 L1192.2,1965.1 L1194.9,1965.1 L1197.6,1965.1 L1200.3,1965.1 L1203.0,1965.0 L1205.7,1965.0 L1208.4,1965.0 L1211.1,1964.9 L1213.8,1964.8 L1216.5,1964.7 L1219.2,1964.6 L1221.9,1964.5 L1224.5,1964.3 L1227.2,1964.1 L1229.9,1963.9 L1232.6,1963.8 L1235.3,1963.6 L1238.0,1963.3 L1240.7,1963.1 L1243.4,1962.8 L1246.1,1962.4 L1248.8,1962.0 L1251.5,1961.6 L1254.2,1961.1 L1256.8,1960.5 L1259.4,1959.9 L1261.9,1959.2 L1264.3,1958.3 L1266.8,1957.2 L1269.2,1955.8 L1271.6,1954.3 L1273.8,1952.7 L1275.9,1951.1 L1277.9,1949.4 L1279.8,1947.4 L1281.6,1945.4 L1283.3,1943.2 L1284.9,1941.0 L1286.4,1938.8 L1287.9,1936.6 L1289.2,1934.2 L1290.5,1931.9 L1291.8,1929.4 L1292.9,1927.0 L1294.0,1924.5 L1295.0,1922.0 L1295.9,1919.5 L1296.8,1917.0 L1297.6,1914.4 L1298.4,1911.8 L1299.1,1909.2 L1299.8,1906.6 L1300.5,1904.0 L1301.2,1901.4 L1301.9,1898.7 L1302.5,1896.1 L1303.1,1893.5 L1303.8,1890.9 L1304.4,1888.2 L1305.0,1885.6 L1305.6,1883.0 L1306.2,1880.3 L1306.7,1877.7 L1307.3,1875.1 L1307.8,1872.4 L1308.4,1869.8 L1308.9,1867.1 L1309.4,1864.5 L1310.0,1861.9 L1310.5,1859.2 L1311.1,1856.6 L1311.7,1853.9 L1312.2,1851.3 L1312.8,1848.7 L1313.4,1846.0 L1314.0,1843.4 L1314.6,1840.8 L1315.2,1838.1 L1315.8,1835.5 L1316.3,1832.9 L1316.9,1830.2 L1317.4,1827.6 L1317.9,1825.0 L1318.4,1822.3 L1318.9,1819.7 L1319.4,1817.0 L1319.9,1814.3 L1320.3,1811.7 L1320.8,1809.0 L1321.2,1806.4 L1321.6,1803.7 L1322.0,1801.0 L1322.5,1798.4 L1322.9,1795.7 L1323.3,1793.0 L1323.7,1790.4 L1324.1,1787.7 L1324.5,1785.1 L1324.9,1782.4 L1325.4,1779.7 L1325.8,1777.1 L1326.2,1774.4 L1326.6,1771.7 L1327.0,1769.1 L1327.4,1766.4 L1327.8,1763.7 L1328.2,1761.1 L1328.6,1758.4 L1329.0,1755.7 L1329.4,1753.1 L1329.7,1750.4 L1330.1,1747.7 L1330.5,1745.1 L1330.9,1742.4 L1331.3,1739.7 L1331.7,1737.1 L1332.1,1734.4 L1332.5,1731.7 L1332.9,1729.1 L1333.3,1726.4 L1333.7,1723.7 L1334.1,1721.0 L1334.4,1718.4 L1334.8,1715.7 L1335.2,1713.0 L1335.7,1710.4 L1336.1,1707.7 L1336.5,1705.1 L1336.9,1702.4 L1337.4,1699.7 L1337.8,1697.1 L1338.3,1694.4 L1338.8,1691.8 L1339.2,1689.1 L1339.7,1686.5 L1340.2,1683.8 L1340.7,1681.2 L1341.2,1678.5 L1341.7,1675.9 L1342.3,1673.2 L1342.8,1670.6 L1343.3,1667.9 L1343.8,1665.3 L1344.4,1662.6 L1344.9,1660.0 L1345.4,1657.3 L1345.9,1654.7 L1346.4,1652.0 L1347.0,1649.4 L1347.5,1646.7 L1348.1,1644.1 L1348.8,1641.5 L1349.5,1638.9 L1350.2,1636.3 L1351.0,1633.7 L1351.8,1631.0 L1352.7,1628.4 L1353.7,1625.8 L1354.8,1623.3 L1356.0,1621.0 L1357.4,1618.9 L1359.1,1616.9 L1361.2,1614.9 L1363.5,1613.2 L1365.8,1612.1 L1368.3,1611.3 L1370.9,1610.6 L1373.6,1610.0 L1376.3,1609.7 L1379.0,1609.5 L1381.7,1609.4 L1384.4,1609.3 L1387.1,1609.2 L1389.8,1609.2 L1392.5,1609.1 L1395.2,1609.1 L1397.9,1609.0 L1400.6,1609.0 L1403.3,1609.0 L1406.0,1609.0 L1408.7,1609.0 L1411.4,1609.0 L1414.1,1609.0 L1416.8,1609.0 L1419.5,1609.0 L1422.2,1609.0 L1424.9,1609.0 L1427.6,1609.0 L1430.3,1609.0 L1433.0,1609.0 L1435.6,1609.0 L1438.3,1609.0 L1441.0,1609.0 L1443.7,1609.0 L1446.4,1609.0 L1449.1,1609.0 L1451.8,1609.0 L1454.5,1609.0 L1457.2,1609.0 L1459.9,1609.0 L1462.6,1609.0 L1465.3,1609.0 L1468.0,1609.0 L1470.7,1609.0 L1473.4,1609.0 L1476.1,1609.0 L1478.8,1609.0 L1481.5,1609.0 L1484.2,1609.0 L1486.9,1609.0 L1489.6,1609.0 L1492.3,1609.0 L1495.0,1609.0 L1497.7,1609.0 L1500.4,1609.0 L1503.1,1609.0 L1505.7,1609.0 L1508.4,1609.0 L1511.1,1609.0 L1513.8,1609.0 L1516.5,1609.0 L1519.2,1609.0 L1521.9,1609.0 L1524.6,1609.0 L1527.3,1609.0 L1530.0,1609.0 L1532.7,1609.0 L1535.4,1609.0 L1538.1,1609.0 L1540.8,1609.0 L1543.5,1609.0" fill="none" stroke="#e60012" stroke-width="3.6" stroke-linejoin="round"/>
</g>
<rect x="1114.0" y="1592.0" width="429.5" height="390.0" fill="none" stroke="#000" stroke-width="3.4" />
<rect x="1553.0" y="1592.0" width="142.0" height="390.0" fill="none" stroke="#000" stroke-width="3.4" />
<line x1="1101.0" y1="1608.8" x2="1113.0" y2="1608.8" stroke="#231815" stroke-width="3.1" />
<text x="1097.4" y="1618.0" font-size="27.5" text-anchor="end" fill="#231815" textLength="51.5" lengthAdjust="spacingAndGlyphs">1.00</text>
<line x1="1101.0" y1="1697.7" x2="1113.0" y2="1697.7" stroke="#231815" stroke-width="3.1" />
<text x="1097.4" y="1707.0" font-size="27.5" text-anchor="end" fill="#231815" textLength="51.5" lengthAdjust="spacingAndGlyphs">0.75</text>
<line x1="1101.0" y1="1786.7" x2="1113.0" y2="1786.7" stroke="#231815" stroke-width="3.1" />
<text x="1097.4" y="1796.0" font-size="27.5" text-anchor="end" fill="#231815" textLength="51.5" lengthAdjust="spacingAndGlyphs">0.50</text>
<line x1="1101.0" y1="1875.6" x2="1113.0" y2="1875.6" stroke="#231815" stroke-width="3.1" />
<text x="1097.4" y="1884.9" font-size="27.5" text-anchor="end" fill="#231815" textLength="51.5" lengthAdjust="spacingAndGlyphs">0.25</text>
<line x1="1101.0" y1="1964.5" x2="1113.0" y2="1964.5" stroke="#231815" stroke-width="3.1" />
<text x="1097.4" y="1973.8" font-size="27.5" text-anchor="end" fill="#231815" textLength="51.5" lengthAdjust="spacingAndGlyphs">0.00</text>
<text x="1028.2" y="1785.5" font-size="31" text-anchor="middle" fill="#231815" transform="rotate(-90 1028.2 1785.5)" textLength="260.0" lengthAdjust="spacingAndGlyphs">Cumulative fraction</text>
<line x1="1134.4" y1="1983.5" x2="1134.4" y2="1995.0" stroke="#231815" stroke-width="3.1" />
<text x="1132.9" y="2019.0" font-size="27" text-anchor="middle" fill="#231815">-2</text>
<line x1="1231.8" y1="1983.5" x2="1231.8" y2="1995.0" stroke="#231815" stroke-width="3.1" />
<text x="1230.3" y="2019.0" font-size="27" text-anchor="middle" fill="#231815">-1</text>
<line x1="1329.2" y1="1983.5" x2="1329.2" y2="1995.0" stroke="#231815" stroke-width="3.1" />
<text x="1329.2" y="2019.0" font-size="27" text-anchor="middle" fill="#231815">0</text>
<line x1="1426.6" y1="1983.5" x2="1426.6" y2="1995.0" stroke="#231815" stroke-width="3.1" />
<text x="1426.6" y="2019.0" font-size="27" text-anchor="middle" fill="#231815">1</text>
<line x1="1524.0" y1="1983.5" x2="1524.0" y2="1995.0" stroke="#231815" stroke-width="3.1" />
<text x="1524.0" y="2019.0" font-size="27" text-anchor="middle" fill="#231815">2</text>
<text x="1329.0" y="2054.0" font-size="31" text-anchor="middle" fill="#231815" textLength="112.0" lengthAdjust="spacingAndGlyphs">log<tspan font-size="15.5" font-weight="bold">2</tspan>(FC)</text>
<line x1="1696.5" y1="1608.8" x2="1712.5" y2="1608.8" stroke="#231815" stroke-width="3.1" />
<text x="1720.5" y="1616.2" font-size="27" fill="#231815">2</text>
<line x1="1696.5" y1="1786.7" x2="1712.5" y2="1786.7" stroke="#231815" stroke-width="3.1" />
<text x="1720.5" y="1794.2" font-size="27" fill="#231815">0</text>
<line x1="1696.5" y1="1964.5" x2="1712.5" y2="1964.5" stroke="#231815" stroke-width="3.1" />
<text x="1716.0" y="1972.0" font-size="27" fill="#231815">-2</text>
<text x="1750.4" y="1785.7" font-size="31" text-anchor="middle" fill="#231815" transform="rotate(90 1750.4 1785.7)" textLength="111.5" lengthAdjust="spacingAndGlyphs">log<tspan font-size="15.5" font-weight="bold">2</tspan>(FC)</text>
<text x="1130.0" y="1621.5" font-size="23" fill="#231815">HeLa</text>
<text x="1130.0" y="1649.6" font-size="23" fill="#231815" textLength="176.0" lengthAdjust="spacingAndGlyphs">+ YTHDF1/3-Mut</text>
<text x="1130.0" y="1686.2" font-size="23" fill="#231815">P = 8.9×10<tspan font-size="14" dy="-9">−8</tspan></text>
<line x1="1131.2" y1="1705.0" x2="1150.8" y2="1705.0" stroke="#9c9c9c" stroke-width="3.2" />
<text x="1155.0" y="1710.9" font-size="23.5" fill="#231815" textLength="110.5" lengthAdjust="spacingAndGlyphs">Non-target</text>
<line x1="1131.2" y1="1732.5" x2="1150.8" y2="1732.5" stroke="#e60012" stroke-width="3.2" />
<text x="1155.0" y="1739.0" font-size="23.5" fill="#231815" textLength="177.0" lengthAdjust="spacingAndGlyphs">YTHDF1/3 target</text>
<line x1="1591.5" y1="1739.5" x2="1591.5" y2="1776.0" stroke="#9c9c9c" stroke-width="3.3" />
<line x1="1591.5" y1="1803.5" x2="1591.5" y2="1842.0" stroke="#9c9c9c" stroke-width="3.3" />
<rect x="1575.7" y="1777.5" width="31.6" height="24.5" fill="#fff" stroke="#9c9c9c" stroke-width="3.6" />
<line x1="1574.0" y1="1787.0" x2="1609.0" y2="1787.0" stroke="#9c9c9c" stroke-width="3.4" />
<line x1="1656.5" y1="1742.0" x2="1656.5" y2="1778.5" stroke="#e60012" stroke-width="3.3" />
<line x1="1656.5" y1="1807.0" x2="1656.5" y2="1845.5" stroke="#e60012" stroke-width="3.3" />
<rect x="1640.7" y="1780.0" width="31.6" height="25.5" fill="#fff" stroke="#e60012" stroke-width="3.6" />
<line x1="1639.0" y1="1790.5" x2="1674.0" y2="1790.5" stroke="#e60012" stroke-width="3.4" />
</g>
<g id="panel-h">
<text x="52.6" y="2144.6" font-size="48" font-weight="bold" fill="#231815" textLength="28.7" lengthAdjust="spacingAndGlyphs">h</text>
<text x="102.0" y="2172.5" font-size="26" fill="#231815" textLength="61.0" lengthAdjust="spacingAndGlyphs">HeLa</text>
<text x="92.0" y="2382.0" font-size="30" text-anchor="middle" fill="#231815" transform="rotate(-90 92.0 2382.0)" textLength="306.0" lengthAdjust="spacingAndGlyphs">Normalized F-luc/R-luc</text>
<path d="M190.5,2581 V2237.8 H239.5 V2581" fill="none" stroke="#000" stroke-width="3" />
<path d="M269.5,2581 V2344.5 H318.5 V2581" fill="none" stroke="#d7201d" stroke-width="3" />
<path d="M400.0,2581 V2284.0 H449.0 V2581" fill="none" stroke="#000" stroke-width="3" />
<path d="M479.0,2581 V2360.0 H528.0 V2581" fill="none" stroke="#d7201d" stroke-width="3" />
<line x1="162.5" y1="2185.0" x2="162.5" y2="2582.8" stroke="#000" stroke-width="3" />
<line x1="145.0" y1="2581.2" x2="559.5" y2="2581.2" stroke="#000" stroke-width="3" />
<line x1="145.0" y1="2223.8" x2="162.5" y2="2223.8" stroke="#000" stroke-width="3" />
<text x="140.0" y="2233.2" font-size="27" text-anchor="end" fill="#231815" textLength="35.0" lengthAdjust="spacingAndGlyphs">1.5</text>
<line x1="145.0" y1="2402.5" x2="162.5" y2="2402.5" stroke="#000" stroke-width="3" />
<text x="140.0" y="2412.0" font-size="27" text-anchor="end" fill="#231815" textLength="35.0" lengthAdjust="spacingAndGlyphs">1.0</text>
<line x1="145.0" y1="2581.2" x2="162.5" y2="2581.2" stroke="#000" stroke-width="3" />
<text x="140.0" y="2590.8" font-size="27" text-anchor="end" fill="#231815" textLength="35.0" lengthAdjust="spacingAndGlyphs">0.5</text>
<line x1="214.5" y1="2581.0" x2="214.5" y2="2599.0" stroke="#000" stroke-width="3" />
<text x="214.5" y="2630.8" font-size="27" text-anchor="middle" fill="#231815">1</text>
<line x1="294.5" y1="2581.0" x2="294.5" y2="2599.0" stroke="#000" stroke-width="3" />
<text x="294.5" y="2630.8" font-size="27" text-anchor="middle" fill="#231815">9</text>
<line x1="425.0" y1="2581.0" x2="425.0" y2="2599.0" stroke="#000" stroke-width="3" />
<text x="425.0" y="2630.8" font-size="27" text-anchor="middle" fill="#231815">1</text>
<line x1="502.5" y1="2581.0" x2="502.5" y2="2599.0" stroke="#000" stroke-width="3" />
<text x="502.5" y="2630.8" font-size="27" text-anchor="middle" fill="#231815">9</text>
<text x="1.0" y="2630.8" font-size="27" fill="#231815" textLength="160.0" lengthAdjust="spacingAndGlyphs">Glucose (g/L)</text>
<line x1="188.5" y1="2648.8" x2="321.5" y2="2648.8" stroke="#231815" stroke-width="2" />
<line x1="396.8" y1="2648.8" x2="528.8" y2="2648.8" stroke="#231815" stroke-width="2" />
<text x="165.0" y="2687.5" font-size="23" fill="#231815" textLength="180.0" lengthAdjust="spacingAndGlyphs">N-WT-YTHDF1-λ</text>
<text x="373.0" y="2687.5" font-size="23" fill="#231815" textLength="180.0" lengthAdjust="spacingAndGlyphs">N-WT-YTHDF3-λ</text>
<line x1="214.5" y1="2222.5" x2="214.5" y2="2250.0" stroke="#000" stroke-width="3" />
<line x1="200.0" y1="2222.5" x2="229.0" y2="2222.5" stroke="#000" stroke-width="3" />
<line x1="200.0" y1="2250.0" x2="229.0" y2="2250.0" stroke="#000" stroke-width="3" />
<circle cx="236.2" cy="2223.2" r="5.3" fill="none" stroke="#000" stroke-width="3.4"/>
<circle cx="215.0" cy="2233.8" r="5.3" fill="none" stroke="#000" stroke-width="3.4"/>
<circle cx="215.0" cy="2250.0" r="5.3" fill="none" stroke="#000" stroke-width="3.4"/>
<line x1="425.0" y1="2272.0" x2="425.0" y2="2290.0" stroke="#000" stroke-width="3" />
<line x1="412.0" y1="2272.0" x2="438.0" y2="2272.0" stroke="#000" stroke-width="3" />
<line x1="412.0" y1="2290.0" x2="438.0" y2="2290.0" stroke="#000" stroke-width="3" />
<circle cx="425.0" cy="2270.8" r="5.3" fill="none" stroke="#000" stroke-width="3.4"/>
<circle cx="404.0" cy="2286.2" r="5.3" fill="none" stroke="#000" stroke-width="3.4"/>
<circle cx="445.5" cy="2286.2" r="5.3" fill="none" stroke="#000" stroke-width="3.4"/>
<line x1="293.8" y1="2336.0" x2="293.8" y2="2352.0" stroke="#d7201d" stroke-width="3" />
<line x1="280.2" y1="2336.0" x2="307.2" y2="2336.0" stroke="#d7201d" stroke-width="3" />
<line x1="280.2" y1="2352.0" x2="307.2" y2="2352.0" stroke="#d7201d" stroke-width="3" />
<rect x="290.2" y="2332.0" width="7.0" height="7.0" fill="none" stroke="#d7201d" stroke-width="3" />
<rect x="270.2" y="2346.5" width="7.0" height="7.0" fill="none" stroke="#d7201d" stroke-width="3" />
<rect x="310.2" y="2342.8" width="7.0" height="7.0" fill="none" stroke="#d7201d" stroke-width="3" />
<line x1="502.5" y1="2355.5" x2="502.5" y2="2364.0" stroke="#d7201d" stroke-width="3" />
<line x1="490.0" y1="2355.5" x2="515.0" y2="2355.5" stroke="#d7201d" stroke-width="3" />
<line x1="490.0" y1="2364.0" x2="515.0" y2="2364.0" stroke="#d7201d" stroke-width="3" />
<rect x="499.0" y="2352.8" width="7.0" height="7.0" fill="none" stroke="#d7201d" stroke-width="3" />
<rect x="479.0" y="2361.0" width="7.0" height="7.0" fill="none" stroke="#d7201d" stroke-width="3" />
<rect x="520.2" y="2354.0" width="7.0" height="7.0" fill="none" stroke="#d7201d" stroke-width="3" />
<path d="M214.5,2227 V2201.25 H294.5 V2324" fill="none" stroke="#000" stroke-width="3" />
<path d="M425,2262 V2242.5 H502 V2344" fill="none" stroke="#000" stroke-width="3" />
<text x="202.5" y="2185.8" font-size="23.5" font-weight="bold" fill="#4d4d4d" textLength="102.5" lengthAdjust="spacingAndGlyphs">***p = 0.001</text>
<text x="410.0" y="2228.8" font-size="23.5" font-weight="bold" fill="#4d4d4d" textLength="106.2" lengthAdjust="spacingAndGlyphs">**p = 0.0011</text>
</g>
<g id="panel-i">
<text x="622.7" y="2144.0" font-size="48" font-weight="bold" fill="#231815" textLength="13.1" lengthAdjust="spacingAndGlyphs">i</text>
<text x="763.0" y="2153.8" font-size="23.5" font-weight="bold" fill="#4d4d4d" textLength="123.0" lengthAdjust="spacingAndGlyphs">**p = 2.2×10<tspan font-size="14.1" dy="-8.5">-11</tspan></text>
<path d="M778,2172.5 V2165.75 H874.25 V2172.5" fill="none" stroke="#333333" stroke-width="3" />
<line x1="718.8" y1="2382.0" x2="933.8" y2="2382.0" stroke="#c2c2c2" stroke-width="3" />
<line x1="708.8" y1="2259.5" x2="718.8" y2="2259.5" stroke="#333333" stroke-width="3" />
<text x="702.5" y="2266.5" font-size="27.5" text-anchor="end" fill="#4d4d4d" textLength="28.1" lengthAdjust="spacingAndGlyphs">10</text>
<line x1="708.8" y1="2382.0" x2="718.8" y2="2382.0" stroke="#333333" stroke-width="3" />
<text x="702.5" y="2389.0" font-size="27.5" text-anchor="end" fill="#4d4d4d" textLength="14.1" lengthAdjust="spacingAndGlyphs">0</text>
<line x1="708.8" y1="2505.0" x2="718.8" y2="2505.0" stroke="#333333" stroke-width="3" />
<text x="702.5" y="2512.0" font-size="27.5" text-anchor="end" fill="#4d4d4d" textLength="36.6" lengthAdjust="spacingAndGlyphs">-10</text>
<line x1="778.0" y1="2585.0" x2="778.0" y2="2595.5" stroke="#333333" stroke-width="3" />
<line x1="874.2" y1="2585.0" x2="874.2" y2="2595.5" stroke="#333333" stroke-width="3" />
<text x="653.0" y="2383.0" font-size="31" text-anchor="middle" fill="#231815" transform="rotate(-90 653.0 2383.0)" textLength="284.0" lengthAdjust="spacingAndGlyphs">Translation efficiency</text>
<text x="776.5" y="2622.5" font-size="30" text-anchor="middle" fill="#231815">-Glc</text>
<text x="873.8" y="2622.5" font-size="30" text-anchor="middle" fill="#231815">+Glc</text>
<circle cx="778.0" cy="2334.0" r="3.6" fill="#333333"/>
<circle cx="778.0" cy="2329.9" r="3.6" fill="#333333"/>
<circle cx="778.0" cy="2325.8" r="3.6" fill="#333333"/>
<circle cx="778.0" cy="2321.8" r="3.6" fill="#333333"/>
<circle cx="778.0" cy="2317.7" r="3.6" fill="#333333"/>
<circle cx="778.0" cy="2313.6" r="3.6" fill="#333333"/>
<circle cx="778.0" cy="2309.5" r="3.6" fill="#333333"/>
<circle cx="778.0" cy="2305.4" r="3.6" fill="#333333"/>
<circle cx="778.0" cy="2301.3" r="3.6" fill="#333333"/>
<circle cx="778.0" cy="2297.2" r="3.6" fill="#333333"/>
<circle cx="778.0" cy="2293.2" r="3.6" fill="#333333"/>
<circle cx="778.0" cy="2289.1" r="3.6" fill="#333333"/>
<circle cx="778.0" cy="2285.0" r="3.6" fill="#333333"/>
<circle cx="778.0" cy="2280.9" r="3.6" fill="#333333"/>
<circle cx="778.0" cy="2276.8" r="3.6" fill="#333333"/>
<circle cx="778.0" cy="2272.8" r="3.6" fill="#333333"/>
<circle cx="778.0" cy="2268.7" r="3.6" fill="#333333"/>
<circle cx="778.0" cy="2264.6" r="3.6" fill="#333333"/>
<circle cx="778.0" cy="2260.5" r="3.6" fill="#333333"/>
<circle cx="778.0" cy="2256.4" r="3.6" fill="#333333"/>
<circle cx="778.0" cy="2252.3" r="3.6" fill="#333333"/>
<circle cx="778.0" cy="2248.2" r="3.6" fill="#333333"/>
<circle cx="778.0" cy="2244.2" r="3.6" fill="#333333"/>
<circle cx="778.0" cy="2240.1" r="3.6" fill="#333333"/>
<circle cx="778.0" cy="2236.0" r="3.6" fill="#333333"/>
<circle cx="778.0" cy="2201.2" r="3.6" fill="#333333"/>
<circle cx="778.0" cy="2423.0" r="3.6" fill="#333333"/>
<circle cx="778.0" cy="2427.0" r="3.6" fill="#333333"/>
<circle cx="778.0" cy="2431.0" r="3.6" fill="#333333"/>
<circle cx="778.0" cy="2435.0" r="3.6" fill="#333333"/>
<circle cx="778.0" cy="2439.0" r="3.6" fill="#333333"/>
<circle cx="778.0" cy="2443.0" r="3.6" fill="#333333"/>
<circle cx="778.0" cy="2447.0" r="3.6" fill="#333333"/>
<circle cx="778.0" cy="2451.0" r="3.6" fill="#333333"/>
<circle cx="778.0" cy="2469.0" r="3.6" fill="#333333"/>
<circle cx="778.0" cy="2491.0" r="3.6" fill="#333333"/>
<circle cx="778.0" cy="2565.8" r="3.6" fill="#333333"/>
<line x1="778.0" y1="2334.0" x2="778.0" y2="2367.5" stroke="#333333" stroke-width="3.3" />
<line x1="778.0" y1="2391.8" x2="778.0" y2="2423.0" stroke="#333333" stroke-width="3.3" />
<rect x="742.1" y="2369.2" width="71.7" height="20.9" fill="#fff" stroke="#333333" stroke-width="3.3" />
<line x1="740.5" y1="2378.0" x2="815.5" y2="2378.0" stroke="#333333" stroke-width="3.3" />
<circle cx="874.2" cy="2314.0" r="3.6" fill="#d7201d"/>
<circle cx="874.2" cy="2309.8" r="3.6" fill="#d7201d"/>
<circle cx="874.2" cy="2305.7" r="3.6" fill="#d7201d"/>
<circle cx="874.2" cy="2301.5" r="3.6" fill="#d7201d"/>
<circle cx="874.2" cy="2297.4" r="3.6" fill="#d7201d"/>
<circle cx="874.2" cy="2293.2" r="3.6" fill="#d7201d"/>
<circle cx="874.2" cy="2289.1" r="3.6" fill="#d7201d"/>
<circle cx="874.2" cy="2284.9" r="3.6" fill="#d7201d"/>
<circle cx="874.2" cy="2280.7" r="3.6" fill="#d7201d"/>
<circle cx="874.2" cy="2276.6" r="3.6" fill="#d7201d"/>
<circle cx="874.2" cy="2272.4" r="3.6" fill="#d7201d"/>
<circle cx="874.2" cy="2268.3" r="3.6" fill="#d7201d"/>
<circle cx="874.2" cy="2264.1" r="3.6" fill="#d7201d"/>
<circle cx="874.2" cy="2259.9" r="3.6" fill="#d7201d"/>
<circle cx="874.2" cy="2255.8" r="3.6" fill="#d7201d"/>
<circle cx="874.2" cy="2251.6" r="3.6" fill="#d7201d"/>
<circle cx="874.2" cy="2247.5" r="3.6" fill="#d7201d"/>
<circle cx="874.2" cy="2243.3" r="3.6" fill="#d7201d"/>
<circle cx="874.2" cy="2239.2" r="3.6" fill="#d7201d"/>
<circle cx="874.2" cy="2235.0" r="3.6" fill="#d7201d"/>
<circle cx="874.2" cy="2222.0" r="3.6" fill="#d7201d"/>
<circle cx="874.2" cy="2440.0" r="3.6" fill="#d7201d"/>
<circle cx="874.2" cy="2444.5" r="3.6" fill="#d7201d"/>
<circle cx="874.2" cy="2449.0" r="3.6" fill="#d7201d"/>
<circle cx="874.2" cy="2453.5" r="3.6" fill="#d7201d"/>
<circle cx="874.2" cy="2458.0" r="3.6" fill="#d7201d"/>
<circle cx="874.2" cy="2462.5" r="3.6" fill="#d7201d"/>
<circle cx="874.2" cy="2477.5" r="3.6" fill="#d7201d"/>
<line x1="874.2" y1="2314.0" x2="874.2" y2="2360.5" stroke="#d7201d" stroke-width="3.3" />
<line x1="874.2" y1="2395.0" x2="874.2" y2="2440.0" stroke="#d7201d" stroke-width="3.3" />
<rect x="838.4" y="2362.2" width="71.7" height="31.2" fill="#fff" stroke="#d7201d" stroke-width="3.3" />
<line x1="836.8" y1="2375.8" x2="911.8" y2="2375.8" stroke="#d7201d" stroke-width="3.3" />
<rect x="720.2" y="2183.5" width="212.0" height="400.0" fill="none" stroke="#333333" stroke-width="3" />
</g>
<g id="panel-j">
<text x="984.5" y="2144.0" font-size="48" font-weight="bold" fill="#231815" textLength="13.1" lengthAdjust="spacingAndGlyphs">j</text>
<text x="1164.2" y="2152.5" font-size="23.5" font-weight="bold" fill="#4d4d4d" textLength="129.0" lengthAdjust="spacingAndGlyphs">**p = 7.88×10<tspan font-size="14.1" dy="-8.5">-7</tspan></text>
<path d="M1179.25,2172.5 V2165.75 H1274.25 V2172.5" fill="none" stroke="#333333" stroke-width="3" />
<line x1="1120.0" y1="2409.5" x2="1334.5" y2="2409.5" stroke="#c2c2c2" stroke-width="3" />
<line x1="1110.0" y1="2200.8" x2="1120.0" y2="2200.8" stroke="#333333" stroke-width="3" />
<text x="1102.5" y="2209.6" font-size="27.5" text-anchor="end" fill="#4d4d4d" textLength="28.1" lengthAdjust="spacingAndGlyphs">10</text>
<line x1="1110.0" y1="2305.0" x2="1120.0" y2="2305.0" stroke="#333333" stroke-width="3" />
<text x="1102.5" y="2313.8" font-size="27.5" text-anchor="end" fill="#4d4d4d" textLength="14.1" lengthAdjust="spacingAndGlyphs">5</text>
<line x1="1110.0" y1="2409.5" x2="1120.0" y2="2409.5" stroke="#333333" stroke-width="3" />
<text x="1102.5" y="2418.3" font-size="27.5" text-anchor="end" fill="#4d4d4d" textLength="14.1" lengthAdjust="spacingAndGlyphs">0</text>
<line x1="1110.0" y1="2513.8" x2="1120.0" y2="2513.8" stroke="#333333" stroke-width="3" />
<text x="1102.5" y="2522.6" font-size="27.5" text-anchor="end" fill="#4d4d4d" textLength="22.5" lengthAdjust="spacingAndGlyphs">-5</text>
<line x1="1179.2" y1="2585.0" x2="1179.2" y2="2595.5" stroke="#333333" stroke-width="3" />
<line x1="1274.2" y1="2585.0" x2="1274.2" y2="2595.5" stroke="#333333" stroke-width="3" />
<text x="1033.4" y="2386.5" font-size="31.5" text-anchor="middle" fill="#231815" transform="rotate(-90 1033.4 2386.5)" textLength="462.0" lengthAdjust="spacingAndGlyphs">Translation efficiency Fold Change</text>
<text x="1070.0" y="2383.0" font-size="31" text-anchor="middle" fill="#231815" transform="rotate(-90 1070.0 2383.0)" textLength="194.0" lengthAdjust="spacingAndGlyphs">log<tspan font-size="15.5" font-weight="bold">2</tspan>(+Glc/-Glc)</text>
<text x="1193.0" y="2616.5" font-size="30.5" text-anchor="end" fill="#231815" transform="rotate(-45 1193.0 2616.5)">Non-target</text>
<text x="1287.0" y="2616.5" font-size="30.5" text-anchor="end" fill="#231815" transform="rotate(-45 1287.0 2616.5)">Target</text>
<circle cx="1179.2" cy="2340.0" r="3.6" fill="#999999"/>
<circle cx="1179.2" cy="2335.2" r="3.6" fill="#999999"/>
<circle cx="1179.2" cy="2330.5" r="3.6" fill="#999999"/>
<circle cx="1179.2" cy="2325.8" r="3.6" fill="#999999"/>
<circle cx="1179.2" cy="2321.0" r="3.6" fill="#999999"/>
<circle cx="1179.2" cy="2311.0" r="3.6" fill="#999999"/>
<circle cx="1179.2" cy="2295.5" r="3.6" fill="#999999"/>
<circle cx="1179.2" cy="2469.0" r="3.6" fill="#999999"/>
<circle cx="1179.2" cy="2473.3" r="3.6" fill="#999999"/>
<circle cx="1179.2" cy="2477.7" r="3.6" fill="#999999"/>
<circle cx="1179.2" cy="2482.0" r="3.6" fill="#999999"/>
<circle cx="1179.2" cy="2486.3" r="3.6" fill="#999999"/>
<circle cx="1179.2" cy="2490.7" r="3.6" fill="#999999"/>
<circle cx="1179.2" cy="2495.0" r="3.6" fill="#999999"/>
<circle cx="1179.2" cy="2508.0" r="3.6" fill="#999999"/>
<circle cx="1179.2" cy="2516.0" r="3.6" fill="#999999"/>
<line x1="1179.2" y1="2340.0" x2="1179.2" y2="2388.2" stroke="#999999" stroke-width="3.3" />
<line x1="1179.2" y1="2422.0" x2="1179.2" y2="2469.0" stroke="#999999" stroke-width="3.3" />
<rect x="1143.4" y="2389.9" width="71.7" height="30.4" fill="#fff" stroke="#999999" stroke-width="3.3" />
<line x1="1141.8" y1="2405.5" x2="1216.8" y2="2405.5" stroke="#999999" stroke-width="3.3" />
<circle cx="1274.2" cy="2344.0" r="3.6" fill="#d7201d"/>
<circle cx="1274.2" cy="2339.7" r="3.6" fill="#d7201d"/>
<circle cx="1274.2" cy="2335.4" r="3.6" fill="#d7201d"/>
<circle cx="1274.2" cy="2331.1" r="3.6" fill="#d7201d"/>
<circle cx="1274.2" cy="2326.8" r="3.6" fill="#d7201d"/>
<circle cx="1274.2" cy="2322.5" r="3.6" fill="#d7201d"/>
<circle cx="1274.2" cy="2318.2" r="3.6" fill="#d7201d"/>
<circle cx="1274.2" cy="2314.0" r="3.6" fill="#d7201d"/>
<circle cx="1274.2" cy="2309.7" r="3.6" fill="#d7201d"/>
<circle cx="1274.2" cy="2305.4" r="3.6" fill="#d7201d"/>
<circle cx="1274.2" cy="2301.1" r="3.6" fill="#d7201d"/>
<circle cx="1274.2" cy="2296.8" r="3.6" fill="#d7201d"/>
<circle cx="1274.2" cy="2292.5" r="3.6" fill="#d7201d"/>
<circle cx="1274.2" cy="2475.0" r="3.6" fill="#d7201d"/>
<circle cx="1274.2" cy="2479.2" r="3.6" fill="#d7201d"/>
<circle cx="1274.2" cy="2483.5" r="3.6" fill="#d7201d"/>
<circle cx="1274.2" cy="2487.8" r="3.6" fill="#d7201d"/>
<circle cx="1274.2" cy="2492.0" r="3.6" fill="#d7201d"/>
<circle cx="1274.2" cy="2496.2" r="3.6" fill="#d7201d"/>
<circle cx="1274.2" cy="2500.5" r="3.6" fill="#d7201d"/>
<circle cx="1274.2" cy="2504.8" r="3.6" fill="#d7201d"/>
<circle cx="1274.2" cy="2509.0" r="3.6" fill="#d7201d"/>
<circle cx="1274.2" cy="2513.2" r="3.6" fill="#d7201d"/>
<circle cx="1274.2" cy="2517.5" r="3.6" fill="#d7201d"/>
<circle cx="1274.2" cy="2521.8" r="3.6" fill="#d7201d"/>
<circle cx="1274.2" cy="2526.0" r="3.6" fill="#d7201d"/>
<line x1="1274.2" y1="2344.0" x2="1274.2" y2="2393.0" stroke="#d7201d" stroke-width="3.3" />
<line x1="1274.2" y1="2427.5" x2="1274.2" y2="2475.0" stroke="#d7201d" stroke-width="3.3" />
<rect x="1238.4" y="2394.7" width="71.7" height="31.2" fill="#fff" stroke="#d7201d" stroke-width="3.3" />
<line x1="1236.8" y1="2409.5" x2="1311.8" y2="2409.5" stroke="#d7201d" stroke-width="3.3" />
<rect x="1121.5" y="2183.5" width="211.5" height="400.0" fill="none" stroke="#333333" stroke-width="3" />
</g>
<g id="panel-k">
<text x="1384.0" y="2144.5" font-size="48" font-weight="bold" fill="#231815" textLength="26.2" lengthAdjust="spacingAndGlyphs">k</text>
<text x="1535.8" y="2153.2" font-size="23.5" font-weight="bold" fill="#4d4d4d" textLength="118.8" lengthAdjust="spacingAndGlyphs">**p = 1.9×10<tspan font-size="14.1" dy="-8.5">-6</tspan></text>
<text x="1568.2" y="2107.5" font-size="23.5" font-weight="bold" fill="#4d4d4d" textLength="135.0" lengthAdjust="spacingAndGlyphs">**p = 3.51×10<tspan font-size="14.1" dy="-8.5">-12</tspan></text>
<text x="1605.0" y="2063.5" font-size="23.5" font-weight="bold" fill="#4d4d4d" textLength="143.5" lengthAdjust="spacingAndGlyphs">***p = 2.93×10<tspan font-size="14.1" dy="-8.5">-25</tspan></text>
<path d="M1564,2172.5 V2166.25 H1636.5 V2172.5" fill="none" stroke="#333333" stroke-width="3" />
<path d="M1564,2127.5 V2120.5 H1709.5 V2127.5" fill="none" stroke="#333333" stroke-width="3" />
<path d="M1564,2083 V2076.25 H1782.75 V2083" fill="none" stroke="#333333" stroke-width="3" />
<line x1="1519.0" y1="2409.2" x2="1828.0" y2="2409.2" stroke="#c2c2c2" stroke-width="3" />
<line x1="1509.0" y1="2201.2" x2="1519.0" y2="2201.2" stroke="#333333" stroke-width="3" />
<text x="1500.5" y="2211.2" font-size="27.5" text-anchor="end" fill="#4d4d4d" textLength="28.1" lengthAdjust="spacingAndGlyphs">10</text>
<line x1="1509.0" y1="2305.0" x2="1519.0" y2="2305.0" stroke="#333333" stroke-width="3" />
<text x="1500.5" y="2315.0" font-size="27.5" text-anchor="end" fill="#4d4d4d" textLength="14.1" lengthAdjust="spacingAndGlyphs">5</text>
<line x1="1509.0" y1="2409.2" x2="1519.0" y2="2409.2" stroke="#333333" stroke-width="3" />
<text x="1500.5" y="2419.2" font-size="27.5" text-anchor="end" fill="#4d4d4d" textLength="14.1" lengthAdjust="spacingAndGlyphs">0</text>
<line x1="1509.0" y1="2513.8" x2="1519.0" y2="2513.8" stroke="#333333" stroke-width="3" />
<text x="1500.5" y="2523.8" font-size="27.5" text-anchor="end" fill="#4d4d4d" textLength="22.5" lengthAdjust="spacingAndGlyphs">-5</text>
<line x1="1564.0" y1="2585.0" x2="1564.0" y2="2595.5" stroke="#333333" stroke-width="3" />
<line x1="1636.5" y1="2585.0" x2="1636.5" y2="2595.5" stroke="#333333" stroke-width="3" />
<line x1="1709.5" y1="2585.0" x2="1709.5" y2="2595.5" stroke="#333333" stroke-width="3" />
<line x1="1782.8" y1="2585.0" x2="1782.8" y2="2595.5" stroke="#333333" stroke-width="3" />
<text x="1437.4" y="2386.0" font-size="31.5" text-anchor="middle" fill="#231815" transform="rotate(-90 1437.4 2386.0)" textLength="462.0" lengthAdjust="spacingAndGlyphs">Translation efficiency Fold Change</text>
<text x="1473.8" y="2383.0" font-size="31" text-anchor="middle" fill="#231815" transform="rotate(-90 1473.8 2383.0)" textLength="194.0" lengthAdjust="spacingAndGlyphs">log<tspan font-size="15.5" font-weight="bold">2</tspan>(+Glc/-Glc)</text>
<text x="1572.0" y="2616.0" font-size="30.5" text-anchor="end" fill="#231815" transform="rotate(-45 1572.0 2616.0)">Non</text>
<text x="1649.5" y="2614.0" font-size="30.5" text-anchor="end" fill="#231815" transform="rotate(-45 1649.5 2614.0)">1 m<tspan font-size="19" dy="-10">6</tspan><tspan dy="10">A</tspan></text>
<text x="1722.5" y="2614.0" font-size="30.5" text-anchor="end" fill="#231815" transform="rotate(-45 1722.5 2614.0)">2-4 m<tspan font-size="19" dy="-10">6</tspan><tspan dy="10">A</tspan></text>
<text x="1795.8" y="2614.0" font-size="30.5" text-anchor="end" fill="#231815" transform="rotate(-45 1795.8 2614.0)">5+ m<tspan font-size="19" dy="-10">6</tspan><tspan dy="10">A</tspan></text>
<circle cx="1564.0" cy="2329.0" r="3.6" fill="#999999"/>
<circle cx="1564.0" cy="2325.0" r="3.6" fill="#999999"/>
<circle cx="1564.0" cy="2320.9" r="3.6" fill="#999999"/>
<circle cx="1564.0" cy="2316.9" r="3.6" fill="#999999"/>
<circle cx="1564.0" cy="2312.9" r="3.6" fill="#999999"/>
<circle cx="1564.0" cy="2308.9" r="3.6" fill="#999999"/>
<circle cx="1564.0" cy="2304.8" r="3.6" fill="#999999"/>
<circle cx="1564.0" cy="2300.8" r="3.6" fill="#999999"/>
<circle cx="1564.0" cy="2296.8" r="3.6" fill="#999999"/>
<circle cx="1564.0" cy="2292.8" r="3.6" fill="#999999"/>
<circle cx="1564.0" cy="2288.7" r="3.6" fill="#999999"/>
<circle cx="1564.0" cy="2284.7" r="3.6" fill="#999999"/>
<circle cx="1564.0" cy="2280.7" r="3.6" fill="#999999"/>
<circle cx="1564.0" cy="2276.7" r="3.6" fill="#999999"/>
<circle cx="1564.0" cy="2272.6" r="3.6" fill="#999999"/>
<circle cx="1564.0" cy="2268.6" r="3.6" fill="#999999"/>
<circle cx="1564.0" cy="2264.6" r="3.6" fill="#999999"/>
<circle cx="1564.0" cy="2260.6" r="3.6" fill="#999999"/>
<circle cx="1564.0" cy="2256.5" r="3.6" fill="#999999"/>
<circle cx="1564.0" cy="2252.5" r="3.6" fill="#999999"/>
<circle cx="1564.0" cy="2248.8" r="3.6" fill="#999999"/>
<circle cx="1564.0" cy="2222.5" r="3.6" fill="#999999"/>
<circle cx="1564.0" cy="2226.7" r="3.6" fill="#999999"/>
<circle cx="1564.0" cy="2230.8" r="3.6" fill="#999999"/>
<circle cx="1564.0" cy="2235.0" r="3.6" fill="#999999"/>
<circle cx="1564.0" cy="2210.5" r="3.6" fill="#999999"/>
<circle cx="1564.0" cy="2472.0" r="3.6" fill="#999999"/>
<circle cx="1564.0" cy="2476.2" r="3.6" fill="#999999"/>
<circle cx="1564.0" cy="2480.5" r="3.6" fill="#999999"/>
<circle cx="1564.0" cy="2484.8" r="3.6" fill="#999999"/>
<circle cx="1564.0" cy="2489.0" r="3.6" fill="#999999"/>
<circle cx="1564.0" cy="2493.2" r="3.6" fill="#999999"/>
<circle cx="1564.0" cy="2497.5" r="3.6" fill="#999999"/>
<circle cx="1564.0" cy="2510.0" r="3.6" fill="#999999"/>
<circle cx="1564.0" cy="2517.5" r="3.6" fill="#999999"/>
<circle cx="1564.0" cy="2527.0" r="3.6" fill="#999999"/>
<line x1="1564.0" y1="2329.0" x2="1564.0" y2="2382.5" stroke="#999999" stroke-width="3.3" />
<line x1="1564.0" y1="2420.0" x2="1564.0" y2="2472.0" stroke="#999999" stroke-width="3.3" />
<rect x="1536.7" y="2384.2" width="54.7" height="34.2" fill="#fff" stroke="#999999" stroke-width="3.3" />
<line x1="1535.0" y1="2404.5" x2="1593.0" y2="2404.5" stroke="#999999" stroke-width="3.3" />
<circle cx="1636.5" cy="2340.0" r="3.6" fill="#2db55d"/>
<circle cx="1636.5" cy="2336.0" r="3.6" fill="#2db55d"/>
<circle cx="1636.5" cy="2332.0" r="3.6" fill="#2db55d"/>
<circle cx="1636.5" cy="2328.0" r="3.6" fill="#2db55d"/>
<circle cx="1636.5" cy="2324.0" r="3.6" fill="#2db55d"/>
<circle cx="1636.5" cy="2320.0" r="3.6" fill="#2db55d"/>
<circle cx="1636.5" cy="2313.8" r="3.6" fill="#2db55d"/>
<circle cx="1636.5" cy="2297.5" r="3.6" fill="#2db55d"/>
<circle cx="1636.5" cy="2472.0" r="3.6" fill="#2db55d"/>
<circle cx="1636.5" cy="2476.5" r="3.6" fill="#2db55d"/>
<circle cx="1636.5" cy="2480.9" r="3.6" fill="#2db55d"/>
<circle cx="1636.5" cy="2485.4" r="3.6" fill="#2db55d"/>
<circle cx="1636.5" cy="2489.8" r="3.6" fill="#2db55d"/>
<circle cx="1636.5" cy="2494.3" r="3.6" fill="#2db55d"/>
<circle cx="1636.5" cy="2498.8" r="3.6" fill="#2db55d"/>
<circle cx="1636.5" cy="2509.0" r="3.6" fill="#2db55d"/>
<circle cx="1636.5" cy="2520.8" r="3.6" fill="#2db55d"/>
<line x1="1636.5" y1="2340.0" x2="1636.5" y2="2388.2" stroke="#2db55d" stroke-width="3.3" />
<line x1="1636.5" y1="2423.0" x2="1636.5" y2="2472.0" stroke="#2db55d" stroke-width="3.3" />
<rect x="1609.2" y="2389.9" width="54.7" height="31.4" fill="#fff" stroke="#2db55d" stroke-width="3.3" />
<line x1="1607.5" y1="2406.2" x2="1665.5" y2="2406.2" stroke="#2db55d" stroke-width="3.3" />
<circle cx="1709.5" cy="2343.0" r="3.6" fill="#f0689b"/>
<circle cx="1709.5" cy="2339.0" r="3.6" fill="#f0689b"/>
<circle cx="1709.5" cy="2335.0" r="3.6" fill="#f0689b"/>
<circle cx="1709.5" cy="2331.0" r="3.6" fill="#f0689b"/>
<circle cx="1709.5" cy="2327.0" r="3.6" fill="#f0689b"/>
<circle cx="1709.5" cy="2323.0" r="3.6" fill="#f0689b"/>
<circle cx="1709.5" cy="2319.0" r="3.6" fill="#f0689b"/>
<circle cx="1709.5" cy="2315.0" r="3.6" fill="#f0689b"/>
<circle cx="1709.5" cy="2308.8" r="3.6" fill="#f0689b"/>
<circle cx="1709.5" cy="2293.8" r="3.6" fill="#f0689b"/>
<circle cx="1709.5" cy="2253.0" r="3.6" fill="#f0689b"/>
<circle cx="1709.5" cy="2227.0" r="3.6" fill="#f0689b"/>
<circle cx="1709.5" cy="2474.0" r="3.6" fill="#f0689b"/>
<circle cx="1709.5" cy="2478.3" r="3.6" fill="#f0689b"/>
<circle cx="1709.5" cy="2482.7" r="3.6" fill="#f0689b"/>
<circle cx="1709.5" cy="2487.0" r="3.6" fill="#f0689b"/>
<circle cx="1709.5" cy="2491.3" r="3.6" fill="#f0689b"/>
<circle cx="1709.5" cy="2495.7" r="3.6" fill="#f0689b"/>
<circle cx="1709.5" cy="2500.0" r="3.6" fill="#f0689b"/>
<circle cx="1709.5" cy="2507.5" r="3.6" fill="#f0689b"/>
<circle cx="1709.5" cy="2513.0" r="3.6" fill="#f0689b"/>
<circle cx="1709.5" cy="2520.0" r="3.6" fill="#f0689b"/>
<circle cx="1709.5" cy="2527.5" r="3.6" fill="#f0689b"/>
<line x1="1709.5" y1="2343.0" x2="1709.5" y2="2390.5" stroke="#f0689b" stroke-width="3.3" />
<line x1="1709.5" y1="2424.5" x2="1709.5" y2="2474.0" stroke="#f0689b" stroke-width="3.3" />
<rect x="1682.2" y="2392.2" width="54.7" height="30.7" fill="#fff" stroke="#f0689b" stroke-width="3.3" />
<line x1="1680.5" y1="2408.2" x2="1738.5" y2="2408.2" stroke="#f0689b" stroke-width="3.3" />
<circle cx="1782.8" cy="2343.0" r="3.6" fill="#d7201d"/>
<circle cx="1782.8" cy="2337.8" r="3.6" fill="#d7201d"/>
<circle cx="1782.8" cy="2332.7" r="3.6" fill="#d7201d"/>
<circle cx="1782.8" cy="2327.5" r="3.6" fill="#d7201d"/>
<circle cx="1782.8" cy="2314.2" r="3.6" fill="#d7201d"/>
<circle cx="1782.8" cy="2296.2" r="3.6" fill="#d7201d"/>
<circle cx="1782.8" cy="2480.0" r="3.6" fill="#d7201d"/>
<circle cx="1782.8" cy="2484.4" r="3.6" fill="#d7201d"/>
<circle cx="1782.8" cy="2488.8" r="3.6" fill="#d7201d"/>
<circle cx="1782.8" cy="2493.1" r="3.6" fill="#d7201d"/>
<circle cx="1782.8" cy="2497.5" r="3.6" fill="#d7201d"/>
<circle cx="1782.8" cy="2501.9" r="3.6" fill="#d7201d"/>
<circle cx="1782.8" cy="2506.2" r="3.6" fill="#d7201d"/>
<circle cx="1782.8" cy="2517.0" r="3.6" fill="#d7201d"/>
<circle cx="1782.8" cy="2523.8" r="3.6" fill="#d7201d"/>
<line x1="1782.8" y1="2343.0" x2="1782.8" y2="2392.5" stroke="#d7201d" stroke-width="3.3" />
<line x1="1782.8" y1="2428.8" x2="1782.8" y2="2480.0" stroke="#d7201d" stroke-width="3.3" />
<rect x="1755.4" y="2394.2" width="54.7" height="33.0" fill="#fff" stroke="#d7201d" stroke-width="3.3" />
<line x1="1753.8" y1="2410.0" x2="1811.8" y2="2410.0" stroke="#d7201d" stroke-width="3.3" />
<rect x="1520.5" y="2183.5" width="306.0" height="400.0" fill="none" stroke="#333333" stroke-width="3" />
</g>
</svg>
</body></html>
